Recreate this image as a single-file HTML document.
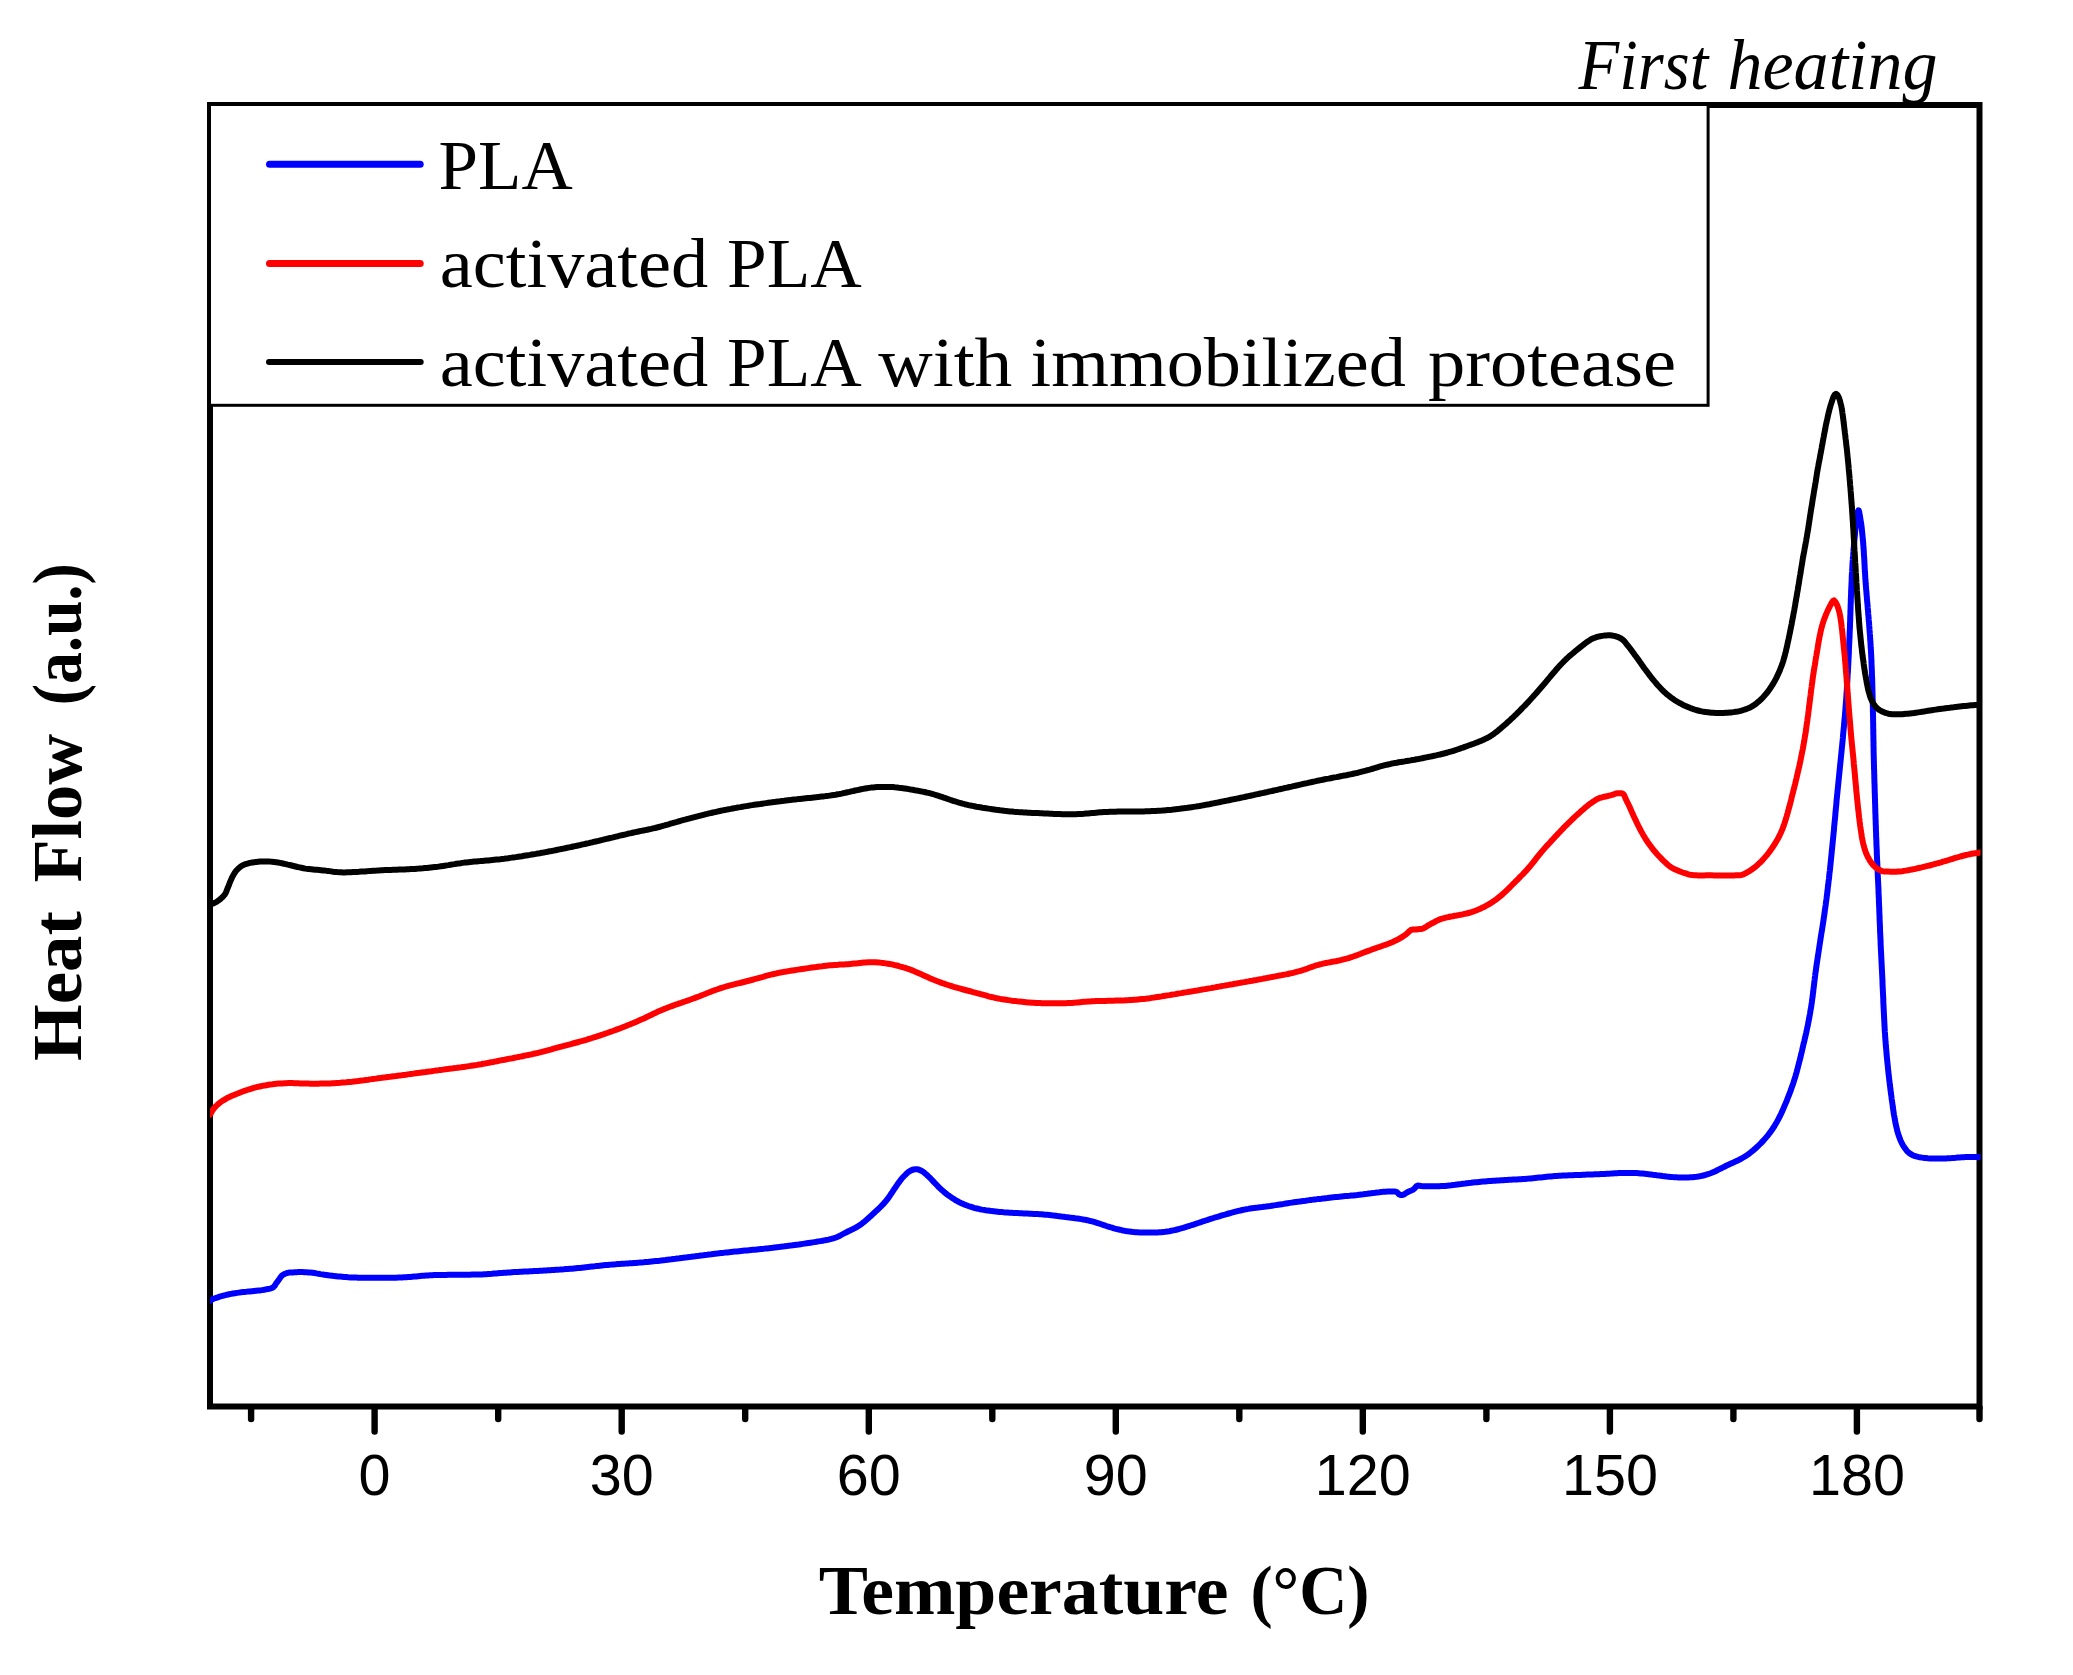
<!DOCTYPE html>
<html lang="en"><head><meta charset="utf-8"><title>DSC first heating</title>
<style>html,body{margin:0;padding:0;background:#fff}svg{display:block}.s{font-family:"Liberation Serif",serif}.ss{font-family:"Liberation Sans",sans-serif}</style></head><body>
<svg width="2073" height="1675" viewBox="0 0 2073 1675">
<rect width="2073" height="1675" fill="#fff"/>
<rect x="210.0" y="105.0" width="1769.5" height="1301.5" fill="none" stroke="#000" stroke-width="6"/>
<line x1="251.1" y1="1407.5" x2="251.1" y2="1419" stroke="#000" stroke-width="6.4" stroke-linecap="round"/>
<line x1="374.6" y1="1407.5" x2="374.6" y2="1431.5" stroke="#000" stroke-width="6.4" stroke-linecap="round"/>
<line x1="498.2" y1="1407.5" x2="498.2" y2="1419" stroke="#000" stroke-width="6.4" stroke-linecap="round"/>
<line x1="621.7" y1="1407.5" x2="621.7" y2="1431.5" stroke="#000" stroke-width="6.4" stroke-linecap="round"/>
<line x1="745.2" y1="1407.5" x2="745.2" y2="1419" stroke="#000" stroke-width="6.4" stroke-linecap="round"/>
<line x1="868.8" y1="1407.5" x2="868.8" y2="1431.5" stroke="#000" stroke-width="6.4" stroke-linecap="round"/>
<line x1="992.3" y1="1407.5" x2="992.3" y2="1419" stroke="#000" stroke-width="6.4" stroke-linecap="round"/>
<line x1="1115.8" y1="1407.5" x2="1115.8" y2="1431.5" stroke="#000" stroke-width="6.4" stroke-linecap="round"/>
<line x1="1239.3" y1="1407.5" x2="1239.3" y2="1419" stroke="#000" stroke-width="6.4" stroke-linecap="round"/>
<line x1="1362.8" y1="1407.5" x2="1362.8" y2="1431.5" stroke="#000" stroke-width="6.4" stroke-linecap="round"/>
<line x1="1486.4" y1="1407.5" x2="1486.4" y2="1419" stroke="#000" stroke-width="6.4" stroke-linecap="round"/>
<line x1="1609.9" y1="1407.5" x2="1609.9" y2="1431.5" stroke="#000" stroke-width="6.4" stroke-linecap="round"/>
<line x1="1733.4" y1="1407.5" x2="1733.4" y2="1419" stroke="#000" stroke-width="6.4" stroke-linecap="round"/>
<line x1="1856.9" y1="1407.5" x2="1856.9" y2="1431.5" stroke="#000" stroke-width="6.4" stroke-linecap="round"/>
<line x1="1979.5" y1="1407.5" x2="1979.5" y2="1419" stroke="#000" stroke-width="6.4" stroke-linecap="round"/>
<text class="ss" x="374.6" y="1494.5" font-size="57.5" text-anchor="middle">0</text>
<text class="ss" x="621.7" y="1494.5" font-size="57.5" text-anchor="middle">30</text>
<text class="ss" x="868.8" y="1494.5" font-size="57.5" text-anchor="middle">60</text>
<text class="ss" x="1115.8" y="1494.5" font-size="57.5" text-anchor="middle">90</text>
<text class="ss" x="1362.8" y="1494.5" font-size="57.5" text-anchor="middle">120</text>
<text class="ss" x="1609.9" y="1494.5" font-size="57.5" text-anchor="middle">150</text>
<text class="ss" x="1856.9" y="1494.5" font-size="57.5" text-anchor="middle">180</text>
<rect x="209.5" y="104.5" width="1498.6" height="300.8" fill="#fff" stroke="#000" stroke-width="3"/>
<clipPath id="c"><rect x="210" y="105" width="1770.5" height="1301"/></clipPath>
<g clip-path="url(#c)" fill="none" stroke-linejoin="round" stroke-linecap="round">
<path d="M210.2,1300.6 L212.5,1299.2 L214.3,1298.5 L216.1,1297.9 L217.9,1297.3 L219.6,1296.7 L221.4,1296.2 L223.3,1295.6 L225.2,1295.2 L227.1,1294.7 L229.0,1294.3 L231.0,1293.9 L233.0,1293.5 L235.0,1293.2 L237.1,1292.9 L239.1,1292.6 L241.2,1292.3 L243.3,1292.1 L245.4,1291.9 L247.6,1291.6 L249.7,1291.4 L251.9,1291.2 L254.0,1291.0 L256.2,1290.8 L258.2,1290.6 L260.3,1290.4 L262.3,1290.1 L264.2,1289.8 L266.1,1289.4 L267.9,1289.0 L269.6,1288.7 L271.1,1288.3 L272.5,1287.7 L273.7,1286.9 L274.9,1285.5 L276.0,1283.6 L277.2,1281.9 L278.3,1280.4 L279.5,1278.8 L280.6,1277.1 L281.8,1275.7 L283.3,1274.6 L285.1,1273.7 L287.0,1273.0 L288.9,1272.6 L290.7,1272.5 L292.6,1272.4 L294.6,1272.3 L296.6,1272.2 L298.5,1272.1 L300.5,1272.1 L302.5,1272.1 L304.5,1272.2 L306.5,1272.2 L308.5,1272.4 L310.5,1272.5 L312.5,1272.7 L314.5,1273.0 L316.4,1273.4 L318.4,1273.7 L320.4,1274.1 L322.3,1274.4 L324.3,1274.7 L326.3,1275.0 L328.2,1275.3 L330.2,1275.6 L332.2,1275.8 L334.2,1276.0 L336.2,1276.2 L338.2,1276.4 L340.2,1276.6 L342.2,1276.8 L344.2,1277.0 L346.2,1277.1 L348.2,1277.3 L350.2,1277.4 L352.2,1277.5 L354.2,1277.6 L356.2,1277.6 L358.1,1277.7 L360.1,1277.7 L362.1,1277.8 L364.1,1277.8 L366.1,1277.8 L368.1,1277.8 L370.1,1277.8 L372.1,1277.8 L374.2,1277.8 L376.2,1277.8 L378.2,1277.8 L380.2,1277.8 L382.2,1277.8 L384.2,1277.8 L386.2,1277.8 L388.2,1277.8 L390.2,1277.8 L392.2,1277.7 L394.2,1277.7 L396.2,1277.7 L398.2,1277.6 L400.1,1277.5 L402.1,1277.4 L404.1,1277.3 L406.1,1277.2 L408.1,1277.0 L410.1,1276.9 L412.1,1276.7 L414.1,1276.5 L416.1,1276.4 L418.1,1276.2 L420.1,1276.0 L422.1,1275.8 L424.1,1275.7 L426.1,1275.5 L428.1,1275.4 L430.1,1275.3 L432.1,1275.2 L434.1,1275.1 L436.1,1275.0 L438.1,1275.0 L440.1,1274.9 L442.1,1274.9 L444.1,1274.9 L446.1,1274.9 L448.1,1274.8 L450.1,1274.8 L452.1,1274.8 L454.1,1274.8 L456.1,1274.8 L458.1,1274.8 L460.1,1274.8 L462.1,1274.7 L464.1,1274.7 L466.1,1274.7 L468.1,1274.7 L470.1,1274.7 L472.1,1274.6 L474.1,1274.6 L476.1,1274.6 L478.1,1274.5 L480.1,1274.4 L482.1,1274.4 L484.1,1274.3 L486.1,1274.2 L488.1,1274.0 L490.0,1273.9 L492.0,1273.8 L494.0,1273.6 L496.0,1273.5 L498.0,1273.3 L500.0,1273.1 L502.0,1273.0 L504.0,1272.8 L506.0,1272.7 L508.0,1272.5 L510.0,1272.4 L512.0,1272.2 L514.0,1272.1 L516.0,1272.0 L518.0,1271.9 L520.0,1271.8 L522.0,1271.7 L524.0,1271.6 L526.0,1271.5 L528.0,1271.4 L530.0,1271.3 L532.0,1271.2 L534.0,1271.1 L536.0,1271.0 L538.0,1270.9 L540.0,1270.8 L542.0,1270.7 L544.0,1270.6 L546.0,1270.5 L548.0,1270.3 L550.0,1270.2 L552.0,1270.1 L554.0,1270.0 L555.9,1269.8 L557.9,1269.7 L559.9,1269.6 L561.9,1269.4 L563.9,1269.3 L565.9,1269.1 L567.9,1269.0 L569.9,1268.8 L571.9,1268.7 L573.9,1268.5 L575.9,1268.3 L577.9,1268.1 L579.9,1267.9 L581.9,1267.7 L583.9,1267.5 L585.8,1267.3 L587.8,1267.1 L589.8,1266.8 L591.8,1266.6 L593.8,1266.4 L595.8,1266.1 L597.8,1265.9 L599.8,1265.7 L601.7,1265.5 L603.7,1265.3 L605.7,1265.1 L607.7,1264.9 L609.7,1264.7 L611.7,1264.6 L613.7,1264.4 L615.7,1264.3 L617.7,1264.1 L619.7,1264.0 L621.7,1263.8 L623.7,1263.7 L625.7,1263.6 L627.7,1263.4 L629.7,1263.3 L631.7,1263.2 L633.7,1263.0 L635.7,1262.9 L637.6,1262.7 L639.6,1262.6 L641.6,1262.4 L643.6,1262.3 L645.6,1262.1 L647.6,1261.9 L649.6,1261.7 L651.6,1261.5 L653.6,1261.3 L655.6,1261.1 L657.6,1260.9 L659.6,1260.7 L661.5,1260.4 L663.5,1260.2 L665.5,1260.0 L667.5,1259.7 L669.5,1259.5 L671.5,1259.3 L673.5,1259.0 L675.4,1258.8 L677.4,1258.5 L679.4,1258.3 L681.4,1258.0 L683.4,1257.8 L685.4,1257.6 L687.4,1257.3 L689.3,1257.1 L691.3,1256.8 L693.3,1256.6 L695.3,1256.3 L697.3,1256.1 L699.3,1255.8 L701.3,1255.5 L703.2,1255.3 L705.2,1255.0 L707.2,1254.8 L709.2,1254.5 L711.2,1254.3 L713.2,1254.0 L715.1,1253.8 L717.1,1253.6 L719.1,1253.3 L721.1,1253.1 L723.1,1252.9 L725.1,1252.6 L727.1,1252.4 L729.1,1252.2 L731.0,1252.0 L733.0,1251.8 L735.0,1251.6 L737.0,1251.4 L739.0,1251.2 L741.0,1251.0 L743.0,1250.8 L745.0,1250.6 L747.0,1250.4 L749.0,1250.2 L751.0,1250.0 L753.0,1249.8 L754.9,1249.7 L756.9,1249.5 L758.9,1249.3 L760.9,1249.1 L762.9,1248.9 L764.9,1248.6 L766.9,1248.4 L768.9,1248.2 L770.9,1248.0 L772.8,1247.8 L774.8,1247.5 L776.8,1247.3 L778.8,1247.1 L780.8,1246.8 L782.8,1246.6 L784.8,1246.3 L786.8,1246.1 L788.7,1245.8 L790.7,1245.6 L792.7,1245.3 L794.7,1245.0 L796.7,1244.7 L798.7,1244.5 L800.6,1244.2 L802.6,1243.9 L804.6,1243.6 L806.6,1243.3 L808.6,1243.0 L810.6,1242.7 L812.5,1242.4 L814.5,1242.1 L816.5,1241.8 L818.5,1241.4 L820.6,1241.1 L822.6,1240.8 L824.5,1240.4 L826.5,1240.0 L828.5,1239.6 L830.4,1239.1 L832.3,1238.6 L834.1,1238.1 L836.0,1237.5 L837.7,1236.8 L839.5,1236.0 L841.2,1235.0 L843.0,1234.0 L844.7,1233.1 L846.5,1232.2 L848.3,1231.3 L850.0,1230.5 L851.8,1229.6 L853.6,1228.7 L855.3,1227.8 L857.0,1226.8 L858.7,1225.9 L860.4,1224.7 L862.0,1223.6 L863.5,1222.3 L865.1,1221.1 L866.6,1219.8 L868.1,1218.4 L869.6,1217.1 L871.1,1215.7 L872.5,1214.4 L874.0,1213.0 L875.5,1211.6 L877.0,1210.3 L878.5,1208.9 L879.9,1207.5 L881.3,1206.1 L882.7,1204.7 L884.0,1203.2 L885.3,1201.7 L886.6,1200.2 L887.8,1198.6 L889.0,1197.0 L890.1,1195.4 L891.2,1193.7 L892.3,1192.1 L893.4,1190.4 L894.5,1188.7 L895.7,1187.0 L896.8,1185.4 L897.9,1183.7 L899.1,1182.1 L900.3,1180.5 L901.5,1178.9 L902.8,1177.4 L904.2,1176.0 L905.6,1174.6 L907.0,1173.2 L908.6,1171.8 L910.3,1170.8 L912.0,1170.0 L913.7,1169.5 L915.5,1169.3 L917.3,1169.3 L919.1,1169.7 L920.8,1170.5 L922.5,1171.4 L924.1,1172.5 L925.7,1173.9 L927.2,1175.3 L928.6,1176.6 L930.1,1178.0 L931.5,1179.5 L932.8,1180.9 L934.2,1182.4 L935.6,1183.8 L937.0,1185.3 L938.3,1186.7 L939.8,1188.1 L941.2,1189.5 L942.7,1190.8 L944.2,1192.1 L945.8,1193.4 L947.3,1194.6 L949.0,1195.8 L950.6,1196.9 L952.2,1198.0 L953.9,1199.1 L955.6,1200.2 L957.4,1201.1 L959.1,1202.1 L960.9,1203.0 L962.7,1203.8 L964.5,1204.6 L966.4,1205.3 L968.3,1206.0 L970.2,1206.6 L972.1,1207.2 L974.0,1207.8 L975.9,1208.3 L977.9,1208.7 L979.8,1209.2 L981.8,1209.6 L983.7,1209.9 L985.7,1210.3 L987.7,1210.6 L989.7,1210.8 L991.6,1211.1 L993.6,1211.3 L995.6,1211.5 L997.6,1211.7 L999.6,1211.9 L1001.6,1212.1 L1003.6,1212.3 L1005.6,1212.4 L1007.6,1212.5 L1009.6,1212.7 L1011.6,1212.8 L1013.6,1212.9 L1015.6,1213.0 L1017.6,1213.1 L1019.6,1213.2 L1021.6,1213.3 L1023.6,1213.4 L1025.6,1213.5 L1027.6,1213.6 L1029.6,1213.7 L1031.6,1213.8 L1033.6,1213.9 L1035.6,1214.0 L1037.6,1214.1 L1039.6,1214.2 L1041.5,1214.3 L1043.5,1214.5 L1045.5,1214.7 L1047.5,1214.8 L1049.5,1215.0 L1051.5,1215.3 L1053.5,1215.5 L1055.5,1215.7 L1057.5,1216.0 L1059.4,1216.2 L1061.4,1216.5 L1063.4,1216.7 L1065.4,1217.0 L1067.4,1217.2 L1069.4,1217.5 L1071.4,1217.7 L1073.4,1218.0 L1075.3,1218.3 L1077.3,1218.5 L1079.3,1218.8 L1081.3,1219.1 L1083.3,1219.5 L1085.2,1219.8 L1087.2,1220.2 L1089.1,1220.7 L1091.0,1221.1 L1093.0,1221.6 L1094.9,1222.2 L1096.8,1222.8 L1098.7,1223.4 L1100.6,1224.0 L1102.5,1224.7 L1104.4,1225.3 L1106.3,1226.0 L1108.2,1226.6 L1110.1,1227.2 L1112.0,1227.7 L1113.9,1228.3 L1115.9,1228.8 L1117.8,1229.3 L1119.7,1229.7 L1121.7,1230.2 L1123.6,1230.6 L1125.6,1231.0 L1127.6,1231.3 L1129.6,1231.6 L1131.5,1231.8 L1133.5,1232.1 L1135.5,1232.2 L1137.5,1232.3 L1139.5,1232.4 L1141.5,1232.5 L1143.5,1232.5 L1145.5,1232.6 L1147.5,1232.6 L1149.5,1232.6 L1151.5,1232.6 L1153.5,1232.5 L1155.5,1232.5 L1157.5,1232.4 L1159.5,1232.3 L1161.5,1232.2 L1163.4,1232.0 L1165.4,1231.8 L1167.4,1231.5 L1169.4,1231.2 L1171.3,1230.8 L1173.3,1230.4 L1175.2,1230.0 L1177.2,1229.5 L1179.1,1229.0 L1181.1,1228.4 L1183.0,1227.9 L1184.9,1227.3 L1186.8,1226.7 L1188.7,1226.1 L1190.6,1225.5 L1192.5,1224.9 L1194.4,1224.3 L1196.3,1223.6 L1198.2,1223.0 L1200.1,1222.4 L1202.0,1221.7 L1203.9,1221.1 L1205.8,1220.5 L1207.7,1219.9 L1209.6,1219.2 L1211.5,1218.6 L1213.5,1218.0 L1215.4,1217.4 L1217.3,1216.9 L1219.2,1216.3 L1221.1,1215.7 L1223.0,1215.1 L1225.0,1214.6 L1226.9,1214.0 L1228.8,1213.5 L1230.7,1213.0 L1232.7,1212.4 L1234.6,1211.9 L1236.5,1211.4 L1238.5,1210.9 L1240.4,1210.5 L1242.4,1210.0 L1244.3,1209.6 L1246.3,1209.2 L1248.3,1208.9 L1250.2,1208.5 L1252.2,1208.2 L1254.2,1207.9 L1256.2,1207.7 L1258.1,1207.5 L1260.1,1207.2 L1262.1,1207.0 L1264.1,1206.7 L1266.1,1206.5 L1268.1,1206.2 L1270.0,1206.0 L1272.0,1205.7 L1274.0,1205.4 L1276.0,1205.1 L1278.0,1204.8 L1279.9,1204.5 L1281.9,1204.2 L1283.9,1203.9 L1285.9,1203.5 L1287.8,1203.2 L1289.8,1202.9 L1291.8,1202.6 L1293.8,1202.3 L1295.8,1202.0 L1297.7,1201.7 L1299.7,1201.5 L1301.7,1201.2 L1303.7,1200.9 L1305.7,1200.7 L1307.6,1200.4 L1309.6,1200.1 L1311.6,1199.9 L1313.6,1199.6 L1315.6,1199.4 L1317.6,1199.1 L1319.6,1198.9 L1321.5,1198.7 L1323.5,1198.4 L1325.5,1198.2 L1327.5,1198.0 L1329.5,1197.7 L1331.5,1197.5 L1333.5,1197.3 L1335.5,1197.1 L1337.5,1196.9 L1339.4,1196.7 L1341.4,1196.5 L1343.4,1196.3 L1345.4,1196.1 L1347.4,1195.9 L1349.4,1195.8 L1351.4,1195.6 L1353.4,1195.4 L1355.4,1195.2 L1357.4,1195.0 L1359.4,1194.7 L1361.4,1194.5 L1363.3,1194.3 L1365.3,1194.0 L1367.3,1193.8 L1369.3,1193.5 L1371.3,1193.2 L1373.3,1192.9 L1375.3,1192.7 L1377.3,1192.4 L1379.4,1192.2 L1381.4,1191.9 L1383.5,1191.8 L1385.5,1191.7 L1387.6,1191.6 L1389.6,1191.6 L1391.7,1191.6 L1393.6,1191.6 L1395.2,1191.6 L1396.5,1191.9 L1397.8,1193.0 L1399.1,1194.4 L1400.6,1195.1 L1402.4,1195.0 L1404.0,1194.4 L1405.7,1193.3 L1407.3,1192.3 L1408.9,1191.5 L1410.7,1190.7 L1412.5,1190.0 L1413.9,1189.1 L1415.1,1187.7 L1416.4,1186.2 L1417.6,1185.6 L1419.2,1185.7 L1421.2,1186.0 L1423.3,1186.2 L1425.3,1186.2 L1427.2,1186.2 L1429.2,1186.2 L1431.2,1186.3 L1433.2,1186.3 L1435.2,1186.3 L1437.2,1186.2 L1439.2,1186.2 L1441.2,1186.1 L1443.2,1186.0 L1445.2,1185.9 L1447.2,1185.7 L1449.2,1185.5 L1451.2,1185.3 L1453.2,1185.0 L1455.2,1184.8 L1457.1,1184.5 L1459.1,1184.2 L1461.1,1184.0 L1463.1,1183.7 L1465.1,1183.5 L1467.1,1183.2 L1469.1,1183.0 L1471.1,1182.8 L1473.1,1182.5 L1475.0,1182.3 L1477.0,1182.2 L1479.0,1182.0 L1481.0,1181.8 L1483.0,1181.6 L1485.0,1181.5 L1487.0,1181.3 L1489.0,1181.1 L1491.0,1181.0 L1493.0,1180.8 L1495.0,1180.7 L1497.0,1180.5 L1499.0,1180.4 L1501.0,1180.3 L1503.0,1180.2 L1505.0,1180.0 L1507.0,1179.9 L1509.0,1179.8 L1511.0,1179.7 L1513.0,1179.6 L1515.0,1179.5 L1517.0,1179.4 L1518.9,1179.3 L1520.9,1179.2 L1522.9,1179.0 L1524.9,1178.9 L1526.9,1178.7 L1528.9,1178.6 L1530.9,1178.4 L1532.9,1178.2 L1534.9,1178.0 L1536.9,1177.8 L1538.9,1177.6 L1540.9,1177.4 L1542.9,1177.2 L1544.8,1177.0 L1546.8,1176.8 L1548.8,1176.6 L1550.8,1176.4 L1552.8,1176.2 L1554.8,1176.1 L1556.8,1176.0 L1558.8,1175.8 L1560.8,1175.7 L1562.8,1175.6 L1564.8,1175.5 L1566.8,1175.4 L1568.8,1175.3 L1570.8,1175.2 L1572.8,1175.2 L1574.8,1175.1 L1576.8,1175.0 L1578.8,1174.9 L1580.8,1174.9 L1582.8,1174.8 L1584.8,1174.7 L1586.8,1174.6 L1588.8,1174.6 L1590.8,1174.5 L1592.8,1174.4 L1594.8,1174.3 L1596.8,1174.3 L1598.8,1174.2 L1600.8,1174.1 L1602.8,1174.0 L1604.8,1173.9 L1606.8,1173.8 L1608.8,1173.7 L1610.8,1173.6 L1612.8,1173.4 L1614.8,1173.3 L1616.8,1173.2 L1618.8,1173.1 L1620.8,1173.1 L1622.8,1173.0 L1624.8,1172.9 L1626.8,1172.9 L1628.8,1172.9 L1630.7,1172.9 L1632.7,1172.9 L1634.7,1173.0 L1636.7,1173.1 L1638.7,1173.2 L1640.7,1173.4 L1642.7,1173.6 L1644.7,1173.8 L1646.7,1174.0 L1648.7,1174.2 L1650.7,1174.4 L1652.7,1174.7 L1654.7,1174.9 L1656.6,1175.2 L1658.6,1175.4 L1660.6,1175.7 L1662.6,1176.0 L1664.6,1176.2 L1666.6,1176.5 L1668.6,1176.7 L1670.5,1176.9 L1672.5,1177.1 L1674.5,1177.2 L1676.5,1177.3 L1678.5,1177.4 L1680.5,1177.5 L1682.5,1177.5 L1684.5,1177.5 L1686.5,1177.5 L1688.5,1177.4 L1690.5,1177.3 L1692.5,1177.2 L1694.5,1177.0 L1696.5,1176.8 L1698.4,1176.5 L1700.4,1176.1 L1702.3,1175.7 L1704.3,1175.3 L1706.2,1174.7 L1708.0,1174.1 L1709.9,1173.5 L1711.8,1172.8 L1713.6,1172.0 L1715.4,1171.2 L1717.2,1170.3 L1719.0,1169.4 L1720.8,1168.5 L1722.6,1167.6 L1724.4,1166.7 L1726.2,1165.8 L1728.0,1164.9 L1729.8,1164.1 L1731.6,1163.2 L1733.5,1162.4 L1735.3,1161.6 L1737.1,1160.7 L1738.9,1159.9 L1740.6,1159.0 L1742.4,1158.0 L1744.1,1157.0 L1745.8,1156.0 L1747.4,1154.9 L1749.1,1153.7 L1750.6,1152.5 L1752.2,1151.2 L1753.7,1149.9 L1755.3,1148.6 L1756.7,1147.3 L1758.2,1145.9 L1759.6,1144.5 L1761.0,1143.1 L1762.4,1141.6 L1763.8,1140.1 L1765.1,1138.6 L1766.4,1137.1 L1767.7,1135.6 L1768.9,1134.0 L1770.1,1132.4 L1771.3,1130.8 L1772.4,1129.2 L1773.5,1127.5 L1774.6,1125.8 L1775.6,1124.1 L1776.6,1122.4 L1777.6,1120.6 L1778.5,1118.9 L1779.4,1117.1 L1780.3,1115.3 L1781.2,1113.5 L1782.0,1111.7 L1782.8,1109.8 L1783.7,1108.0 L1784.4,1106.2 L1785.2,1104.3 L1786.0,1102.5 L1786.8,1100.6 L1787.5,1098.7 L1788.2,1096.9 L1789.0,1095.0 L1789.7,1093.1 L1790.4,1091.3 L1791.1,1089.4 L1791.7,1087.5 L1792.4,1085.6 L1793.1,1083.7 L1793.7,1081.8 L1794.3,1079.9 L1794.9,1078.0 L1795.5,1076.1 L1796.0,1074.2 L1796.6,1072.3 L1797.1,1070.3 L1797.6,1068.4 L1798.1,1066.5 L1798.6,1064.5 L1799.1,1062.6 L1799.6,1060.7 L1800.1,1058.7 L1800.6,1056.8 L1801.0,1054.8 L1801.5,1052.9 L1802.0,1050.9 L1802.4,1049.0 L1802.9,1047.0 L1803.3,1045.1 L1803.8,1043.1 L1804.3,1041.2 L1804.7,1039.2 L1805.2,1037.3 L1805.6,1035.3 L1806.1,1033.4 L1806.5,1031.4 L1806.9,1029.5 L1807.3,1027.5 L1807.8,1025.6 L1808.1,1023.6 L1808.5,1021.6 L1808.9,1019.7 L1809.3,1017.7 L1809.6,1015.7 L1810.0,1013.8 L1810.3,1011.8 L1810.6,1009.8 L1811.0,1007.9 L1811.3,1005.9 L1811.6,1003.9 L1811.9,1001.9 L1812.1,999.9 L1812.4,998.0 L1812.7,996.0 L1812.9,994.0 L1813.2,992.0 L1813.4,990.0 L1813.6,988.0 L1813.9,986.0 L1814.1,984.1 L1814.3,982.1 L1814.6,980.1 L1814.8,978.1 L1815.1,976.1 L1815.3,974.1 L1815.6,972.1 L1815.9,970.2 L1816.1,968.2 L1816.4,966.2 L1816.7,964.2 L1817.0,962.2 L1817.3,960.3 L1817.6,958.3 L1817.9,956.3 L1818.2,954.3 L1818.5,952.4 L1818.8,950.4 L1819.1,948.4 L1819.4,946.4 L1819.7,944.4 L1820.0,942.5 L1820.3,940.5 L1820.6,938.5 L1820.9,936.5 L1821.2,934.6 L1821.5,932.6 L1821.9,930.6 L1822.2,928.6 L1822.5,926.6 L1822.8,924.7 L1823.1,922.7 L1823.4,920.7 L1823.7,918.7 L1824.0,916.8 L1824.3,914.8 L1824.6,912.8 L1824.8,910.8 L1825.1,908.8 L1825.4,906.9 L1825.7,904.9 L1825.9,902.9 L1826.2,900.9 L1826.5,898.9 L1826.7,896.9 L1827.0,895.0 L1827.2,893.0 L1827.5,891.0 L1827.7,889.0 L1827.9,887.0 L1828.2,885.0 L1828.4,883.0 L1828.6,881.1 L1828.9,879.1 L1829.1,877.1 L1829.3,875.1 L1829.5,873.1 L1829.8,871.1 L1830.0,869.1 L1830.2,867.1 L1830.4,865.1 L1830.6,863.2 L1830.8,861.2 L1831.0,859.2 L1831.2,857.2 L1831.4,855.2 L1831.6,853.2 L1831.8,851.2 L1832.0,849.2 L1832.2,847.2 L1832.4,845.2 L1832.6,843.3 L1832.8,841.3 L1833.0,839.3 L1833.2,837.3 L1833.4,835.3 L1833.6,833.3 L1833.8,831.3 L1834.0,829.3 L1834.1,827.3 L1834.3,825.3 L1834.5,823.3 L1834.7,821.3 L1834.9,819.4 L1835.1,817.4 L1835.3,815.4 L1835.4,813.4 L1835.6,811.4 L1835.8,809.4 L1836.0,807.4 L1836.2,805.4 L1836.4,803.4 L1836.5,801.4 L1836.7,799.4 L1836.9,797.4 L1837.1,795.4 L1837.3,793.5 L1837.5,791.5 L1837.7,789.5 L1837.9,787.5 L1838.1,785.5 L1838.3,783.5 L1838.5,781.5 L1838.7,779.5 L1838.9,777.5 L1839.1,775.5 L1839.3,773.6 L1839.5,771.6 L1839.7,769.6 L1839.9,767.6 L1840.1,765.6 L1840.3,763.6 L1840.5,761.6 L1840.7,759.6 L1840.9,757.6 L1841.1,755.6 L1841.3,753.7 L1841.5,751.7 L1841.7,749.7 L1841.9,747.7 L1842.1,745.7 L1842.3,743.7 L1842.5,741.7 L1842.7,739.7 L1842.9,737.7 L1843.0,735.7 L1843.2,733.7 L1843.4,731.7 L1843.6,729.8 L1843.8,727.8 L1844.0,725.8 L1844.1,723.8 L1844.3,721.8 L1844.5,719.8 L1844.7,717.8 L1844.9,715.8 L1845.0,713.8 L1845.2,711.8 L1845.4,709.8 L1845.5,707.8 L1845.7,705.8 L1845.8,703.8 L1846.0,701.8 L1846.1,699.9 L1846.3,697.9 L1846.4,695.9 L1846.5,693.9 L1846.7,691.9 L1846.8,689.9 L1846.9,687.9 L1847.1,685.9 L1847.2,683.9 L1847.3,681.9 L1847.4,679.9 L1847.5,677.9 L1847.6,675.9 L1847.7,673.9 L1847.9,671.9 L1848.0,669.9 L1848.1,667.9 L1848.2,665.9 L1848.3,663.9 L1848.4,661.9 L1848.5,659.9 L1848.6,657.9 L1848.7,655.9 L1848.8,653.9 L1848.9,651.9 L1848.9,649.9 L1849.0,647.9 L1849.1,645.9 L1849.2,643.9 L1849.3,641.9 L1849.4,639.9 L1849.5,637.9 L1849.6,635.9 L1849.6,633.9 L1849.7,631.9 L1849.8,629.9 L1849.9,627.9 L1850.0,625.9 L1850.0,623.9 L1850.1,621.9 L1850.2,619.9 L1850.2,617.9 L1850.3,615.9 L1850.4,613.9 L1850.4,611.9 L1850.5,609.9 L1850.6,607.9 L1850.6,605.9 L1850.7,603.9 L1850.8,601.9 L1850.8,599.9 L1850.9,597.9 L1851.0,595.9 L1851.1,593.9 L1851.1,591.9 L1851.2,589.9 L1851.3,587.9 L1851.4,585.9 L1851.5,583.9 L1851.6,581.9 L1851.7,579.9 L1851.7,578.0 L1851.8,576.0 L1851.9,574.0 L1852.1,572.0 L1852.2,570.0 L1852.3,568.0 L1852.4,566.0 L1852.5,564.0 L1852.6,562.0 L1852.8,560.0 L1852.9,558.0 L1853.1,556.0 L1853.2,554.0 L1853.4,552.0 L1853.5,550.0 L1853.7,548.0 L1853.9,546.0 L1854.1,544.0 L1854.2,542.0 L1854.4,540.0 L1854.6,538.0 L1854.8,536.0 L1855.0,534.0 L1855.1,532.1 L1855.3,530.1 L1855.5,528.1 L1855.8,526.1 L1856.0,524.1 L1856.2,522.1 L1856.5,520.3 L1856.8,518.4 L1857.2,516.3 L1857.6,513.9 L1857.9,511.7 L1858.4,510.4 L1858.8,510.5 L1859.2,511.9 L1859.6,514.2 L1860.0,516.4 L1860.3,518.4 L1860.6,520.2 L1860.9,522.1 L1861.2,524.0 L1861.5,526.0 L1861.7,527.9 L1861.9,529.9 L1862.1,531.9 L1862.3,533.9 L1862.5,535.9 L1862.7,537.9 L1862.9,539.9 L1863.1,541.9 L1863.2,543.9 L1863.4,545.9 L1863.5,547.9 L1863.7,549.9 L1863.8,551.9 L1863.9,553.9 L1864.0,555.8 L1864.2,557.8 L1864.3,559.8 L1864.4,561.8 L1864.5,563.8 L1864.6,565.8 L1864.7,567.8 L1864.8,569.8 L1864.9,571.8 L1865.1,573.8 L1865.2,575.8 L1865.3,577.8 L1865.4,579.8 L1865.6,581.8 L1865.7,583.8 L1865.9,585.8 L1866.0,587.8 L1866.2,589.8 L1866.4,591.8 L1866.5,593.8 L1866.7,595.8 L1866.9,597.8 L1867.0,599.8 L1867.2,601.7 L1867.4,603.7 L1867.6,605.7 L1867.7,607.7 L1867.9,609.7 L1868.1,611.7 L1868.2,613.7 L1868.4,615.7 L1868.6,617.7 L1868.7,619.7 L1868.9,621.7 L1869.1,623.7 L1869.2,625.7 L1869.4,627.7 L1869.5,629.7 L1869.7,631.7 L1869.8,633.7 L1870.0,635.6 L1870.1,637.6 L1870.2,639.6 L1870.4,641.6 L1870.5,643.6 L1870.6,645.6 L1870.7,647.6 L1870.9,649.6 L1871.0,651.6 L1871.1,653.6 L1871.2,655.6 L1871.3,657.6 L1871.4,659.6 L1871.5,661.6 L1871.5,663.6 L1871.6,665.6 L1871.7,667.6 L1871.8,669.6 L1871.9,671.6 L1871.9,673.6 L1872.0,675.6 L1872.1,677.6 L1872.2,679.6 L1872.2,681.6 L1872.3,683.6 L1872.3,685.6 L1872.4,687.6 L1872.4,689.6 L1872.5,691.6 L1872.5,693.6 L1872.6,695.6 L1872.6,697.6 L1872.7,699.6 L1872.7,701.6 L1872.8,703.6 L1872.8,705.6 L1872.9,707.6 L1872.9,709.6 L1872.9,711.6 L1873.0,713.6 L1873.0,715.6 L1873.1,717.6 L1873.1,719.6 L1873.1,721.6 L1873.2,723.6 L1873.2,725.6 L1873.2,727.6 L1873.3,729.6 L1873.3,731.6 L1873.3,733.6 L1873.4,735.6 L1873.4,737.6 L1873.4,739.6 L1873.5,741.6 L1873.5,743.6 L1873.5,745.6 L1873.6,747.6 L1873.6,749.6 L1873.6,751.6 L1873.7,753.6 L1873.7,755.6 L1873.8,757.6 L1873.8,759.6 L1873.9,761.6 L1873.9,763.6 L1874.0,765.6 L1874.0,767.6 L1874.1,769.6 L1874.2,771.6 L1874.2,773.6 L1874.3,775.6 L1874.3,777.6 L1874.4,779.6 L1874.4,781.6 L1874.5,783.6 L1874.6,785.6 L1874.6,787.6 L1874.7,789.6 L1874.7,791.6 L1874.8,793.6 L1874.9,795.6 L1874.9,797.6 L1875.0,799.6 L1875.0,801.6 L1875.1,803.6 L1875.2,805.6 L1875.2,807.6 L1875.3,809.6 L1875.3,811.6 L1875.4,813.6 L1875.5,815.6 L1875.5,817.6 L1875.6,819.6 L1875.7,821.6 L1875.7,823.6 L1875.8,825.6 L1875.9,827.6 L1875.9,829.6 L1876.0,831.6 L1876.1,833.6 L1876.1,835.6 L1876.2,837.6 L1876.3,839.6 L1876.4,841.6 L1876.4,843.6 L1876.5,845.6 L1876.6,847.6 L1876.7,849.6 L1876.8,851.6 L1876.8,853.6 L1876.9,855.6 L1877.0,857.6 L1877.1,859.6 L1877.2,861.6 L1877.3,863.6 L1877.4,865.6 L1877.5,867.6 L1877.6,869.6 L1877.7,871.6 L1877.7,873.6 L1877.8,875.6 L1877.9,877.6 L1878.0,879.6 L1878.1,881.6 L1878.2,883.6 L1878.3,885.6 L1878.4,887.6 L1878.5,889.6 L1878.5,891.6 L1878.6,893.6 L1878.7,895.6 L1878.8,897.6 L1878.9,899.6 L1878.9,901.6 L1879.0,903.6 L1879.1,905.5 L1879.2,907.5 L1879.3,909.5 L1879.3,911.5 L1879.4,913.5 L1879.5,915.5 L1879.6,917.5 L1879.6,919.5 L1879.7,921.5 L1879.8,923.5 L1879.9,925.5 L1880.0,927.5 L1880.0,929.5 L1880.1,931.5 L1880.2,933.5 L1880.3,935.5 L1880.4,937.5 L1880.5,939.5 L1880.6,941.5 L1880.6,943.5 L1880.7,945.5 L1880.8,947.5 L1880.9,949.5 L1881.0,951.5 L1881.1,953.5 L1881.2,955.5 L1881.3,957.5 L1881.4,959.5 L1881.5,961.5 L1881.6,963.5 L1881.7,965.5 L1881.8,967.5 L1881.9,969.5 L1882.0,971.5 L1882.1,973.5 L1882.2,975.5 L1882.3,977.5 L1882.4,979.5 L1882.5,981.5 L1882.5,983.5 L1882.6,985.5 L1882.7,987.5 L1882.8,989.5 L1882.9,991.5 L1883.0,993.5 L1883.1,995.5 L1883.2,997.5 L1883.3,999.5 L1883.3,1001.5 L1883.4,1003.5 L1883.5,1005.5 L1883.6,1007.5 L1883.7,1009.5 L1883.8,1011.5 L1883.9,1013.5 L1884.0,1015.5 L1884.1,1017.5 L1884.2,1019.5 L1884.3,1021.5 L1884.4,1023.5 L1884.5,1025.5 L1884.6,1027.5 L1884.7,1029.5 L1884.8,1031.5 L1885.0,1033.4 L1885.1,1035.4 L1885.2,1037.4 L1885.4,1039.4 L1885.5,1041.4 L1885.7,1043.4 L1885.8,1045.4 L1886.0,1047.4 L1886.2,1049.4 L1886.4,1051.4 L1886.5,1053.4 L1886.7,1055.4 L1886.9,1057.4 L1887.1,1059.4 L1887.3,1061.4 L1887.5,1063.4 L1887.7,1065.3 L1887.9,1067.3 L1888.1,1069.3 L1888.3,1071.3 L1888.5,1073.3 L1888.7,1075.3 L1889.0,1077.3 L1889.2,1079.3 L1889.4,1081.3 L1889.7,1083.2 L1889.9,1085.2 L1890.2,1087.2 L1890.4,1089.2 L1890.7,1091.2 L1890.9,1093.2 L1891.2,1095.1 L1891.5,1097.1 L1891.7,1099.1 L1892.0,1101.1 L1892.3,1103.1 L1892.6,1105.1 L1892.8,1107.0 L1893.1,1109.0 L1893.4,1111.0 L1893.7,1113.0 L1894.0,1115.0 L1894.4,1116.9 L1894.7,1118.9 L1895.1,1120.9 L1895.4,1122.8 L1895.9,1124.8 L1896.3,1126.8 L1896.8,1128.7 L1897.2,1130.6 L1897.8,1132.6 L1898.4,1134.5 L1899.0,1136.4 L1899.7,1138.2 L1900.4,1140.1 L1901.2,1141.9 L1902.1,1143.6 L1903.0,1145.4 L1904.1,1147.0 L1905.2,1148.7 L1906.4,1150.2 L1907.7,1151.7 L1909.2,1153.0 L1910.9,1154.2 L1912.6,1155.2 L1914.4,1155.9 L1916.2,1156.4 L1918.0,1156.9 L1919.9,1157.3 L1921.9,1157.6 L1923.8,1157.9 L1925.8,1158.1 L1927.8,1158.3 L1929.8,1158.4 L1931.8,1158.5 L1933.8,1158.5 L1935.8,1158.6 L1937.8,1158.6 L1939.8,1158.6 L1941.8,1158.5 L1943.8,1158.5 L1945.8,1158.4 L1947.8,1158.3 L1949.8,1158.2 L1951.8,1158.1 L1953.8,1157.9 L1955.8,1157.8 L1957.7,1157.6 L1959.7,1157.4 L1961.7,1157.3 L1963.7,1157.2 L1965.6,1157.1 L1967.6,1157.1 L1969.5,1157.0 L1971.3,1157.0 L1973.2,1157.0 L1975.2,1157.0 L1977.2,1157.0 L1979.0,1157.0 L1980.7,1157.0" stroke="#0000ff" stroke-width="6"/>
<path d="M210.2,1114.7 L211.5,1112.2 L212.4,1110.5 L213.4,1109.0 L214.5,1107.7 L215.7,1106.4 L217.1,1105.1 L218.5,1103.8 L220.1,1102.5 L221.7,1101.4 L223.3,1100.3 L225.0,1099.3 L226.7,1098.3 L228.5,1097.4 L230.3,1096.6 L232.1,1095.8 L234.0,1095.0 L235.8,1094.2 L237.7,1093.5 L239.6,1092.7 L241.4,1092.0 L243.3,1091.3 L245.2,1090.6 L247.1,1090.0 L249.0,1089.4 L250.9,1088.8 L252.8,1088.2 L254.8,1087.7 L256.7,1087.2 L258.6,1086.7 L260.6,1086.3 L262.5,1085.9 L264.5,1085.5 L266.5,1085.2 L268.4,1084.8 L270.4,1084.5 L272.4,1084.3 L274.4,1084.0 L276.4,1083.8 L278.4,1083.6 L280.4,1083.5 L282.4,1083.4 L284.4,1083.2 L286.3,1083.2 L288.3,1083.1 L290.3,1083.1 L292.3,1083.1 L294.3,1083.2 L296.3,1083.2 L298.3,1083.3 L300.3,1083.4 L302.3,1083.5 L304.3,1083.5 L306.3,1083.6 L308.3,1083.6 L310.3,1083.7 L312.3,1083.7 L314.3,1083.7 L316.3,1083.7 L318.3,1083.7 L320.3,1083.6 L322.3,1083.6 L324.3,1083.6 L326.3,1083.5 L328.3,1083.4 L330.3,1083.4 L332.3,1083.3 L334.3,1083.2 L336.3,1083.0 L338.3,1082.9 L340.3,1082.8 L342.3,1082.6 L344.3,1082.4 L346.3,1082.3 L348.3,1082.1 L350.3,1081.9 L352.2,1081.7 L354.2,1081.4 L356.2,1081.2 L358.2,1081.0 L360.2,1080.7 L362.2,1080.4 L364.2,1080.2 L366.1,1079.9 L368.1,1079.7 L370.1,1079.4 L372.1,1079.1 L374.1,1078.9 L376.1,1078.6 L378.0,1078.3 L380.0,1078.1 L382.0,1077.8 L384.0,1077.6 L386.0,1077.3 L388.0,1077.0 L389.9,1076.8 L391.9,1076.5 L393.9,1076.2 L395.9,1076.0 L397.9,1075.7 L399.9,1075.4 L401.8,1075.2 L403.8,1074.9 L405.8,1074.7 L407.8,1074.4 L409.8,1074.1 L411.8,1073.9 L413.7,1073.6 L415.7,1073.3 L417.7,1073.0 L419.7,1072.8 L421.7,1072.5 L423.7,1072.2 L425.6,1072.0 L427.6,1071.7 L429.6,1071.4 L431.6,1071.2 L433.6,1070.9 L435.6,1070.6 L437.5,1070.4 L439.5,1070.1 L441.5,1069.9 L443.5,1069.6 L445.5,1069.3 L447.5,1069.1 L449.4,1068.8 L451.4,1068.6 L453.4,1068.3 L455.4,1068.1 L457.4,1067.8 L459.4,1067.6 L461.4,1067.3 L463.3,1067.0 L465.3,1066.7 L467.3,1066.4 L469.3,1066.1 L471.2,1065.8 L473.2,1065.5 L475.2,1065.2 L477.2,1064.9 L479.1,1064.5 L481.1,1064.2 L483.1,1063.8 L485.0,1063.5 L487.0,1063.1 L489.0,1062.7 L490.9,1062.3 L492.9,1062.0 L494.9,1061.6 L496.8,1061.2 L498.8,1060.8 L500.8,1060.4 L502.7,1060.0 L504.7,1059.7 L506.7,1059.3 L508.6,1058.9 L510.6,1058.5 L512.6,1058.2 L514.5,1057.8 L516.5,1057.4 L518.4,1057.0 L520.4,1056.6 L522.4,1056.2 L524.3,1055.8 L526.3,1055.4 L528.3,1055.0 L530.2,1054.6 L532.2,1054.2 L534.1,1053.7 L536.1,1053.3 L538.0,1052.8 L539.9,1052.3 L541.9,1051.8 L543.8,1051.3 L545.7,1050.8 L547.7,1050.3 L549.6,1049.8 L551.5,1049.3 L553.5,1048.7 L555.4,1048.2 L557.3,1047.7 L559.3,1047.1 L561.2,1046.6 L563.1,1046.1 L565.1,1045.6 L567.0,1045.1 L568.9,1044.6 L570.9,1044.1 L572.8,1043.5 L574.7,1043.0 L576.7,1042.5 L578.6,1042.0 L580.5,1041.4 L582.4,1040.9 L584.4,1040.3 L586.3,1039.8 L588.2,1039.2 L590.1,1038.6 L592.0,1038.0 L593.9,1037.4 L595.8,1036.8 L597.7,1036.2 L599.6,1035.6 L601.5,1034.9 L603.4,1034.3 L605.3,1033.6 L607.2,1033.0 L609.1,1032.3 L611.0,1031.6 L612.9,1031.0 L614.8,1030.3 L616.6,1029.6 L618.5,1028.9 L620.4,1028.2 L622.2,1027.5 L624.1,1026.7 L626.0,1026.0 L627.8,1025.2 L629.7,1024.5 L631.5,1023.7 L633.4,1023.0 L635.2,1022.2 L637.1,1021.4 L638.9,1020.6 L640.7,1019.8 L642.6,1019.0 L644.4,1018.2 L646.2,1017.3 L648.0,1016.4 L649.8,1015.6 L651.6,1014.7 L653.4,1013.8 L655.2,1013.0 L657.0,1012.1 L658.8,1011.3 L660.6,1010.5 L662.5,1009.7 L664.3,1008.9 L666.2,1008.2 L668.0,1007.5 L669.9,1006.8 L671.8,1006.1 L673.7,1005.4 L675.5,1004.7 L677.4,1004.1 L679.3,1003.4 L681.2,1002.8 L683.1,1002.1 L685.0,1001.5 L686.9,1000.8 L688.8,1000.2 L690.7,999.5 L692.6,998.8 L694.5,998.1 L696.3,997.4 L698.2,996.7 L700.1,996.0 L701.9,995.2 L703.8,994.5 L705.7,993.8 L707.5,993.0 L709.4,992.3 L711.2,991.6 L713.1,990.8 L715.0,990.1 L716.9,989.5 L718.8,988.8 L720.6,988.2 L722.5,987.6 L724.5,987.0 L726.4,986.4 L728.3,985.9 L730.2,985.4 L732.2,984.9 L734.1,984.4 L736.0,983.9 L738.0,983.4 L739.9,983.0 L741.9,982.5 L743.8,982.0 L745.8,981.5 L747.7,981.0 L749.6,980.5 L751.6,980.0 L753.5,979.5 L755.4,978.9 L757.4,978.4 L759.3,977.8 L761.2,977.3 L763.1,976.8 L765.1,976.2 L767.0,975.7 L768.9,975.2 L770.9,974.7 L772.8,974.2 L774.8,973.8 L776.7,973.3 L778.7,972.9 L780.6,972.5 L782.6,972.1 L784.5,971.8 L786.5,971.5 L788.5,971.1 L790.5,970.8 L792.4,970.5 L794.4,970.2 L796.4,969.9 L798.4,969.6 L800.4,969.3 L802.3,969.0 L804.3,968.7 L806.3,968.4 L808.3,968.1 L810.3,967.8 L812.2,967.5 L814.2,967.2 L816.2,967.0 L818.2,966.7 L820.2,966.4 L822.2,966.2 L824.1,965.9 L826.1,965.7 L828.1,965.5 L830.1,965.3 L832.1,965.2 L834.1,965.0 L836.1,964.9 L838.1,964.8 L840.1,964.6 L842.1,964.5 L844.1,964.4 L846.1,964.3 L848.1,964.2 L850.1,964.0 L852.1,963.8 L854.0,963.6 L856.0,963.4 L858.0,963.2 L860.0,963.0 L862.0,962.8 L864.0,962.6 L866.0,962.4 L868.0,962.3 L870.0,962.2 L871.9,962.2 L873.9,962.3 L875.9,962.3 L877.9,962.5 L879.9,962.6 L881.9,962.9 L883.9,963.1 L885.8,963.4 L887.8,963.7 L889.8,964.0 L891.8,964.4 L893.7,964.8 L895.7,965.3 L897.6,965.7 L899.6,966.3 L901.5,966.8 L903.4,967.4 L905.3,967.9 L907.2,968.6 L909.1,969.2 L911.0,969.9 L912.8,970.6 L914.7,971.4 L916.5,972.2 L918.3,973.0 L920.1,973.8 L922.0,974.6 L923.8,975.5 L925.6,976.3 L927.4,977.1 L929.3,977.9 L931.1,978.7 L933.0,979.5 L934.8,980.2 L936.7,981.0 L938.6,981.7 L940.4,982.4 L942.3,983.1 L944.2,983.7 L946.1,984.4 L948.0,985.0 L949.9,985.6 L951.8,986.2 L953.7,986.8 L955.6,987.3 L957.6,987.9 L959.5,988.4 L961.4,989.0 L963.3,989.5 L965.3,990.0 L967.2,990.5 L969.1,991.0 L971.1,991.5 L973.0,992.1 L975.0,992.6 L976.9,993.1 L978.8,993.6 L980.8,994.2 L982.7,994.7 L984.6,995.2 L986.5,995.7 L988.5,996.3 L990.4,996.8 L992.4,997.2 L994.3,997.7 L996.3,998.1 L998.2,998.5 L1000.2,998.9 L1002.1,999.2 L1004.1,999.5 L1006.1,999.8 L1008.1,1000.1 L1010.0,1000.4 L1012.0,1000.7 L1014.0,1000.9 L1016.0,1001.1 L1018.0,1001.4 L1020.0,1001.6 L1022.0,1001.8 L1024.0,1002.0 L1026.0,1002.2 L1028.0,1002.4 L1029.9,1002.5 L1031.9,1002.7 L1033.9,1002.8 L1035.9,1003.0 L1037.9,1003.0 L1039.9,1003.1 L1041.9,1003.2 L1043.9,1003.2 L1045.9,1003.3 L1047.9,1003.3 L1049.9,1003.3 L1051.9,1003.3 L1053.9,1003.3 L1055.9,1003.3 L1057.9,1003.3 L1059.9,1003.3 L1061.9,1003.3 L1063.9,1003.2 L1065.9,1003.2 L1067.9,1003.1 L1069.9,1003.0 L1071.9,1002.9 L1073.9,1002.7 L1075.9,1002.6 L1077.9,1002.4 L1079.9,1002.2 L1081.9,1002.0 L1083.9,1001.8 L1085.8,1001.7 L1087.8,1001.5 L1089.8,1001.4 L1091.8,1001.3 L1093.8,1001.2 L1095.8,1001.1 L1097.8,1001.1 L1099.8,1001.0 L1101.8,1001.0 L1103.8,1000.9 L1105.8,1000.9 L1107.8,1000.8 L1109.8,1000.8 L1111.8,1000.7 L1113.8,1000.7 L1115.8,1000.6 L1117.8,1000.6 L1119.8,1000.5 L1121.8,1000.5 L1123.8,1000.4 L1125.8,1000.3 L1127.8,1000.2 L1129.8,1000.1 L1131.8,1000.0 L1133.8,999.8 L1135.8,999.7 L1137.8,999.5 L1139.8,999.3 L1141.8,999.1 L1143.7,998.9 L1145.7,998.7 L1147.7,998.4 L1149.7,998.2 L1151.7,997.9 L1153.7,997.6 L1155.6,997.3 L1157.6,997.0 L1159.6,996.7 L1161.6,996.4 L1163.6,996.0 L1165.5,995.7 L1167.5,995.4 L1169.5,995.1 L1171.5,994.7 L1173.5,994.4 L1175.4,994.1 L1177.4,993.7 L1179.4,993.4 L1181.4,993.1 L1183.3,992.7 L1185.3,992.4 L1187.3,992.1 L1189.3,991.8 L1191.2,991.5 L1193.2,991.1 L1195.2,990.8 L1197.2,990.5 L1199.1,990.1 L1201.1,989.8 L1203.1,989.4 L1205.0,989.1 L1207.0,988.8 L1209.0,988.4 L1210.9,988.1 L1212.9,987.7 L1214.9,987.4 L1216.9,987.0 L1218.8,986.6 L1220.8,986.3 L1222.8,985.9 L1224.7,985.6 L1226.7,985.2 L1228.7,984.9 L1230.6,984.5 L1232.6,984.2 L1234.6,983.8 L1236.6,983.5 L1238.5,983.1 L1240.5,982.8 L1242.5,982.4 L1244.4,982.1 L1246.4,981.7 L1248.4,981.4 L1250.3,981.0 L1252.3,980.7 L1254.3,980.3 L1256.3,980.0 L1258.2,979.6 L1260.2,979.2 L1262.2,978.9 L1264.1,978.5 L1266.1,978.1 L1268.1,977.8 L1270.0,977.4 L1272.0,977.0 L1274.0,976.6 L1275.9,976.3 L1277.9,975.9 L1279.9,975.5 L1281.9,975.1 L1283.8,974.7 L1285.8,974.4 L1287.8,974.0 L1289.8,973.5 L1291.7,973.1 L1293.7,972.7 L1295.6,972.2 L1297.5,971.7 L1299.4,971.2 L1301.3,970.6 L1303.2,970.0 L1305.1,969.4 L1307.0,968.7 L1308.8,968.0 L1310.7,967.3 L1312.6,966.7 L1314.4,966.0 L1316.3,965.4 L1318.2,964.9 L1320.1,964.3 L1322.1,963.9 L1324.0,963.4 L1326.0,963.0 L1327.9,962.6 L1329.9,962.3 L1331.9,961.9 L1333.9,961.5 L1335.8,961.2 L1337.8,960.8 L1339.8,960.3 L1341.7,959.9 L1343.6,959.4 L1345.6,958.9 L1347.5,958.4 L1349.4,957.8 L1351.3,957.2 L1353.2,956.5 L1355.1,955.9 L1356.9,955.2 L1358.8,954.5 L1360.7,953.8 L1362.6,953.0 L1364.4,952.3 L1366.3,951.6 L1368.2,950.9 L1370.1,950.2 L1371.9,949.5 L1373.8,948.8 L1375.7,948.2 L1377.6,947.5 L1379.5,946.9 L1381.4,946.2 L1383.3,945.5 L1385.2,944.9 L1387.1,944.2 L1388.9,943.5 L1390.8,942.7 L1392.7,942.0 L1394.5,941.1 L1396.3,940.3 L1398.1,939.4 L1399.8,938.4 L1401.5,937.4 L1403.1,936.4 L1404.7,935.3 L1406.3,934.1 L1407.9,932.7 L1409.4,931.1 L1410.8,930.0 L1412.4,929.6 L1414.3,929.6 L1416.1,929.5 L1418.0,929.2 L1419.8,929.1 L1421.6,929.0 L1423.4,928.4 L1425.2,927.4 L1427.0,926.2 L1428.7,925.2 L1430.5,924.2 L1432.2,923.2 L1434.0,922.3 L1435.7,921.3 L1437.5,920.4 L1439.3,919.6 L1441.2,918.9 L1443.1,918.4 L1445.0,917.9 L1446.9,917.4 L1448.8,917.0 L1450.8,916.5 L1452.7,916.2 L1454.7,915.8 L1456.7,915.5 L1458.7,915.1 L1460.6,914.7 L1462.6,914.4 L1464.5,913.9 L1466.5,913.5 L1468.4,913.0 L1470.3,912.5 L1472.2,911.9 L1474.1,911.2 L1476.0,910.5 L1477.8,909.8 L1479.7,909.0 L1481.5,908.1 L1483.3,907.3 L1485.1,906.3 L1486.8,905.4 L1488.6,904.4 L1490.3,903.4 L1492.0,902.3 L1493.6,901.2 L1495.3,900.1 L1496.9,898.9 L1498.4,897.7 L1500.0,896.4 L1501.5,895.2 L1503.0,893.8 L1504.5,892.5 L1505.9,891.1 L1507.4,889.7 L1508.8,888.3 L1510.2,886.9 L1511.6,885.5 L1513.0,884.0 L1514.5,882.6 L1515.9,881.2 L1517.3,879.8 L1518.7,878.4 L1520.1,876.9 L1521.5,875.5 L1522.9,874.1 L1524.3,872.6 L1525.7,871.2 L1527.0,869.7 L1528.3,868.2 L1529.6,866.7 L1530.9,865.2 L1532.2,863.6 L1533.4,862.1 L1534.7,860.5 L1535.9,858.9 L1537.1,857.3 L1538.4,855.8 L1539.6,854.2 L1540.9,852.7 L1542.2,851.1 L1543.5,849.6 L1544.8,848.1 L1546.1,846.6 L1547.5,845.1 L1548.8,843.7 L1550.2,842.2 L1551.5,840.7 L1552.9,839.3 L1554.3,837.8 L1555.6,836.3 L1557.0,834.9 L1558.4,833.4 L1559.8,832.0 L1561.1,830.5 L1562.5,829.1 L1563.9,827.6 L1565.3,826.2 L1566.7,824.8 L1568.1,823.4 L1569.6,822.0 L1571.0,820.6 L1572.4,819.2 L1573.9,817.8 L1575.4,816.4 L1576.8,815.1 L1578.3,813.7 L1579.8,812.4 L1581.3,811.0 L1582.8,809.7 L1584.3,808.4 L1585.8,807.1 L1587.4,805.9 L1588.9,804.6 L1590.5,803.4 L1592.2,802.3 L1593.8,801.2 L1595.5,800.1 L1597.3,799.0 L1599.1,798.2 L1600.9,797.6 L1602.8,797.2 L1604.6,796.7 L1606.5,796.3 L1608.4,795.8 L1610.3,795.4 L1612.1,794.9 L1614.0,794.2 L1615.8,793.5 L1617.5,793.3 L1619.4,793.3 L1621.3,793.3 L1622.8,793.6 L1623.9,794.6 L1624.7,796.4 L1625.6,798.5 L1626.5,800.6 L1627.4,802.4 L1628.3,804.2 L1629.2,806.0 L1630.0,807.8 L1630.8,809.7 L1631.6,811.5 L1632.5,813.4 L1633.3,815.2 L1634.1,817.0 L1635.0,818.8 L1635.9,820.6 L1636.7,822.5 L1637.6,824.3 L1638.5,826.1 L1639.4,827.8 L1640.3,829.6 L1641.2,831.4 L1642.2,833.1 L1643.2,834.9 L1644.2,836.6 L1645.2,838.3 L1646.3,840.0 L1647.4,841.7 L1648.5,843.3 L1649.7,844.9 L1650.9,846.5 L1652.1,848.1 L1653.3,849.7 L1654.6,851.2 L1655.9,852.7 L1657.2,854.2 L1658.6,855.7 L1660.0,857.2 L1661.4,858.6 L1662.8,860.1 L1664.2,861.5 L1665.7,862.8 L1667.2,864.2 L1668.7,865.5 L1670.3,866.8 L1671.9,867.8 L1673.6,868.7 L1675.3,869.5 L1677.1,870.3 L1678.9,871.1 L1680.8,871.8 L1682.7,872.5 L1684.6,873.1 L1686.5,873.7 L1688.4,874.3 L1690.3,874.8 L1692.3,875.1 L1694.2,875.2 L1696.2,875.3 L1698.2,875.4 L1700.2,875.4 L1702.1,875.4 L1704.1,875.4 L1706.1,875.3 L1708.1,875.2 L1710.1,875.2 L1712.0,875.3 L1714.0,875.4 L1716.0,875.4 L1718.0,875.5 L1720.0,875.5 L1722.0,875.6 L1724.1,875.6 L1726.1,875.6 L1728.1,875.6 L1730.1,875.6 L1732.1,875.6 L1734.0,875.5 L1736.0,875.3 L1737.9,875.2 L1739.8,875.2 L1741.7,874.9 L1743.5,874.3 L1745.3,873.5 L1747.1,872.4 L1748.9,871.4 L1750.6,870.3 L1752.2,869.2 L1753.8,868.0 L1755.4,866.8 L1756.9,865.5 L1758.4,864.1 L1759.9,862.8 L1761.3,861.4 L1762.7,859.9 L1764.0,858.4 L1765.3,856.9 L1766.6,855.4 L1767.9,853.8 L1769.1,852.2 L1770.3,850.6 L1771.4,849.0 L1772.6,847.4 L1773.7,845.7 L1774.8,844.0 L1775.8,842.3 L1776.8,840.6 L1777.8,838.9 L1778.7,837.1 L1779.6,835.3 L1780.5,833.5 L1781.3,831.7 L1782.1,829.9 L1782.8,828.0 L1783.5,826.1 L1784.2,824.2 L1784.8,822.3 L1785.4,820.4 L1786.0,818.5 L1786.6,816.6 L1787.1,814.7 L1787.7,812.8 L1788.2,810.8 L1788.7,808.9 L1789.3,807.0 L1789.8,805.0 L1790.3,803.1 L1790.8,801.2 L1791.3,799.2 L1791.7,797.3 L1792.2,795.3 L1792.7,793.4 L1793.2,791.5 L1793.7,789.5 L1794.2,787.6 L1794.7,785.6 L1795.2,783.7 L1795.6,781.8 L1796.1,779.8 L1796.6,777.9 L1797.0,775.9 L1797.5,774.0 L1797.9,772.0 L1798.4,770.1 L1798.8,768.1 L1799.3,766.2 L1799.7,764.2 L1800.1,762.3 L1800.5,760.3 L1800.9,758.3 L1801.3,756.4 L1801.7,754.4 L1802.1,752.4 L1802.5,750.5 L1802.9,748.5 L1803.2,746.6 L1803.6,744.6 L1803.9,742.6 L1804.3,740.6 L1804.6,738.7 L1804.9,736.7 L1805.3,734.7 L1805.6,732.7 L1805.9,730.8 L1806.2,728.8 L1806.4,726.8 L1806.7,724.8 L1807.0,722.8 L1807.3,720.9 L1807.5,718.9 L1807.8,716.9 L1808.1,714.9 L1808.3,712.9 L1808.6,710.9 L1808.8,709.0 L1809.1,707.0 L1809.3,705.0 L1809.6,703.0 L1809.8,701.0 L1810.1,699.0 L1810.3,697.0 L1810.6,695.1 L1810.8,693.1 L1811.0,691.1 L1811.3,689.1 L1811.6,687.1 L1811.8,685.1 L1812.1,683.2 L1812.4,681.2 L1812.6,679.2 L1812.9,677.2 L1813.2,675.2 L1813.5,673.3 L1813.8,671.3 L1814.1,669.3 L1814.4,667.3 L1814.8,665.3 L1815.1,663.4 L1815.4,661.4 L1815.7,659.4 L1816.0,657.4 L1816.4,655.5 L1816.7,653.5 L1817.0,651.5 L1817.4,649.5 L1817.7,647.6 L1818.0,645.6 L1818.3,643.6 L1818.7,641.6 L1819.0,639.7 L1819.4,637.7 L1819.8,635.7 L1820.2,633.8 L1820.6,631.8 L1821.0,629.9 L1821.5,628.0 L1822.0,626.0 L1822.6,624.1 L1823.2,622.2 L1823.8,620.3 L1824.5,618.4 L1825.2,616.6 L1825.9,614.7 L1826.7,612.9 L1827.5,611.1 L1828.3,609.4 L1829.2,607.7 L1830.1,605.8 L1831.0,604.1 L1832.0,602.3 L1833.0,600.8 L1834.1,600.4 L1835.1,601.5 L1836.2,603.2 L1837.1,605.1 L1837.8,606.9 L1838.4,608.8 L1838.9,610.6 L1839.4,612.4 L1839.8,614.3 L1840.2,616.3 L1840.5,618.2 L1840.8,620.2 L1841.1,622.2 L1841.4,624.2 L1841.6,626.2 L1841.8,628.1 L1842.1,630.1 L1842.3,632.1 L1842.5,634.1 L1842.7,636.1 L1842.9,638.1 L1843.1,640.1 L1843.3,642.1 L1843.5,644.1 L1843.7,646.1 L1843.9,648.1 L1844.1,650.0 L1844.3,652.0 L1844.5,654.0 L1844.7,656.0 L1844.9,658.0 L1845.0,660.0 L1845.2,662.0 L1845.4,664.0 L1845.6,666.0 L1845.7,668.0 L1845.9,670.0 L1846.0,672.0 L1846.2,674.0 L1846.4,676.0 L1846.5,678.0 L1846.7,680.0 L1846.8,681.9 L1847.0,683.9 L1847.1,685.9 L1847.3,687.9 L1847.4,689.9 L1847.6,691.9 L1847.7,693.9 L1847.9,695.9 L1848.0,697.9 L1848.2,699.9 L1848.3,701.9 L1848.5,703.9 L1848.6,705.9 L1848.8,707.9 L1848.9,709.9 L1849.1,711.9 L1849.3,713.9 L1849.4,715.9 L1849.6,717.9 L1849.8,719.8 L1849.9,721.8 L1850.1,723.8 L1850.3,725.8 L1850.4,727.8 L1850.6,729.8 L1850.8,731.8 L1850.9,733.8 L1851.1,735.8 L1851.3,737.8 L1851.5,739.8 L1851.7,741.8 L1851.9,743.8 L1852.1,745.8 L1852.3,747.7 L1852.5,749.7 L1852.7,751.7 L1852.9,753.7 L1853.1,755.7 L1853.3,757.7 L1853.5,759.7 L1853.7,761.7 L1853.8,763.7 L1854.0,765.7 L1854.2,767.7 L1854.4,769.6 L1854.6,771.6 L1854.8,773.6 L1855.0,775.6 L1855.1,777.6 L1855.3,779.6 L1855.5,781.6 L1855.7,783.6 L1855.9,785.6 L1856.1,787.6 L1856.2,789.6 L1856.4,791.6 L1856.6,793.6 L1856.8,795.5 L1857.0,797.5 L1857.2,799.5 L1857.4,801.5 L1857.6,803.5 L1857.8,805.5 L1858.0,807.5 L1858.2,809.5 L1858.5,811.5 L1858.7,813.5 L1858.9,815.5 L1859.1,817.4 L1859.4,819.4 L1859.6,821.4 L1859.9,823.4 L1860.1,825.4 L1860.4,827.4 L1860.7,829.4 L1861.0,831.3 L1861.3,833.3 L1861.6,835.3 L1861.9,837.3 L1862.3,839.3 L1862.7,841.2 L1863.1,843.2 L1863.6,845.1 L1864.1,847.0 L1864.6,848.9 L1865.2,850.8 L1865.9,852.7 L1866.7,854.5 L1867.5,856.3 L1868.4,858.1 L1869.4,859.8 L1870.4,861.4 L1871.5,863.0 L1872.8,864.6 L1874.2,866.1 L1875.6,867.5 L1877.2,868.6 L1878.9,869.6 L1880.7,870.5 L1882.5,871.2 L1884.4,871.4 L1886.3,871.5 L1888.2,871.6 L1890.2,871.7 L1892.1,871.7 L1894.1,871.7 L1896.1,871.7 L1898.1,871.5 L1900.1,871.4 L1902.1,871.2 L1904.1,870.9 L1906.0,870.6 L1908.0,870.3 L1910.0,869.9 L1911.9,869.5 L1913.9,869.1 L1915.9,868.7 L1917.8,868.2 L1919.8,867.8 L1921.7,867.4 L1923.7,866.9 L1925.6,866.4 L1927.6,865.9 L1929.5,865.5 L1931.4,865.0 L1933.4,864.4 L1935.3,863.9 L1937.2,863.4 L1939.2,862.8 L1941.1,862.3 L1943.0,861.7 L1944.9,861.2 L1946.9,860.6 L1948.8,860.0 L1950.7,859.4 L1952.6,858.8 L1954.5,858.2 L1956.4,857.6 L1958.3,857.1 L1960.3,856.5 L1962.2,856.0 L1964.1,855.5 L1966.0,855.0 L1967.9,854.6 L1969.8,854.2 L1971.6,853.8 L1973.4,853.5 L1975.3,853.2 L1977.3,853.0 L1979.1,852.8 L1980.8,852.3" stroke="#ff0000" stroke-width="6"/>
<path d="M210.2,904.8 L212.7,903.6 L214.5,902.9 L216.2,902.1 L217.6,901.1 L219.0,900.1 L220.5,898.9 L222.0,897.6 L223.4,896.2 L224.7,894.6 L225.7,893.0 L226.4,891.3 L227.1,889.5 L227.8,887.7 L228.6,885.9 L229.3,884.0 L230.0,882.2 L230.8,880.3 L231.6,878.5 L232.4,876.7 L233.4,875.0 L234.4,873.3 L235.5,871.7 L236.7,870.2 L238.1,868.7 L239.6,867.4 L241.3,866.1 L243.0,865.2 L244.7,864.4 L246.5,863.8 L248.4,863.3 L250.3,862.9 L252.2,862.5 L254.2,862.2 L256.1,861.9 L258.1,861.7 L260.1,861.5 L262.1,861.4 L264.1,861.4 L266.1,861.4 L268.1,861.4 L270.0,861.6 L272.0,861.7 L274.0,861.9 L276.0,862.2 L278.0,862.5 L279.9,862.9 L281.9,863.3 L283.9,863.7 L285.8,864.1 L287.8,864.6 L289.7,865.0 L291.7,865.5 L293.6,866.0 L295.6,866.5 L297.5,867.0 L299.5,867.4 L301.4,867.8 L303.4,868.2 L305.3,868.6 L307.3,868.9 L309.3,869.1 L311.2,869.3 L313.2,869.5 L315.2,869.7 L317.2,869.8 L319.2,870.0 L321.2,870.2 L323.2,870.4 L325.1,870.6 L327.1,870.9 L329.1,871.1 L331.1,871.4 L333.1,871.7 L335.0,871.9 L337.0,872.1 L339.0,872.2 L341.0,872.3 L343.0,872.4 L345.0,872.4 L347.0,872.3 L349.0,872.3 L351.0,872.2 L353.0,872.1 L355.0,872.0 L357.0,871.9 L359.0,871.8 L360.9,871.6 L362.9,871.5 L364.9,871.4 L366.9,871.2 L368.9,871.1 L370.9,870.9 L372.9,870.8 L374.9,870.7 L376.9,870.6 L378.9,870.4 L380.9,870.3 L382.9,870.2 L384.9,870.1 L386.9,870.1 L388.9,870.0 L390.9,869.9 L392.9,869.8 L394.9,869.8 L396.9,869.7 L398.9,869.6 L400.9,869.6 L402.9,869.5 L404.9,869.4 L406.9,869.3 L408.9,869.2 L410.9,869.1 L412.9,869.0 L414.9,868.9 L416.9,868.7 L418.9,868.6 L420.9,868.4 L422.9,868.3 L424.9,868.1 L426.9,867.9 L428.8,867.7 L430.8,867.5 L432.8,867.3 L434.8,867.1 L436.8,866.9 L438.8,866.6 L440.8,866.3 L442.7,866.1 L444.7,865.7 L446.7,865.4 L448.6,865.1 L450.6,864.7 L452.6,864.4 L454.5,864.1 L456.5,863.7 L458.5,863.4 L460.5,863.2 L462.4,862.9 L464.4,862.6 L466.4,862.4 L468.4,862.2 L470.4,862.0 L472.4,861.8 L474.4,861.6 L476.4,861.4 L478.4,861.2 L480.3,861.1 L482.3,860.9 L484.3,860.7 L486.3,860.5 L488.3,860.4 L490.3,860.2 L492.3,860.0 L494.3,859.8 L496.3,859.6 L498.3,859.4 L500.3,859.2 L502.3,858.9 L504.2,858.7 L506.2,858.4 L508.2,858.2 L510.2,857.9 L512.2,857.6 L514.2,857.4 L516.1,857.1 L518.1,856.8 L520.1,856.5 L522.1,856.2 L524.0,855.8 L526.0,855.5 L528.0,855.2 L530.0,854.9 L531.9,854.5 L533.9,854.2 L535.9,853.9 L537.8,853.5 L539.8,853.2 L541.8,852.8 L543.7,852.5 L545.7,852.1 L547.7,851.7 L549.6,851.3 L551.6,851.0 L553.6,850.6 L555.5,850.2 L557.5,849.8 L559.5,849.4 L561.4,849.0 L563.4,848.6 L565.3,848.2 L567.3,847.8 L569.2,847.4 L571.2,847.0 L573.2,846.5 L575.1,846.1 L577.1,845.7 L579.0,845.3 L581.0,844.8 L582.9,844.4 L584.9,844.0 L586.8,843.5 L588.8,843.1 L590.7,842.6 L592.7,842.2 L594.6,841.7 L596.6,841.3 L598.5,840.8 L600.5,840.3 L602.4,839.9 L604.4,839.4 L606.3,838.9 L608.2,838.5 L610.2,838.0 L612.1,837.6 L614.1,837.1 L616.0,836.6 L618.0,836.2 L619.9,835.7 L621.9,835.2 L623.8,834.8 L625.8,834.3 L627.7,833.8 L629.7,833.4 L631.6,833.0 L633.6,832.5 L635.5,832.1 L637.5,831.7 L639.4,831.3 L641.4,830.9 L643.4,830.5 L645.3,830.1 L647.3,829.7 L649.2,829.3 L651.2,828.9 L653.1,828.4 L655.1,828.0 L657.0,827.5 L658.9,827.0 L660.9,826.5 L662.8,825.9 L664.7,825.4 L666.6,824.8 L668.6,824.3 L670.5,823.7 L672.4,823.2 L674.3,822.6 L676.3,822.1 L678.2,821.5 L680.1,821.0 L682.0,820.4 L684.0,819.9 L685.9,819.4 L687.8,818.8 L689.8,818.3 L691.7,817.8 L693.6,817.3 L695.6,816.8 L697.5,816.3 L699.4,815.8 L701.4,815.3 L703.3,814.8 L705.3,814.3 L707.2,813.9 L709.1,813.4 L711.1,813.0 L713.0,812.5 L715.0,812.1 L716.9,811.7 L718.9,811.2 L720.9,810.8 L722.8,810.4 L724.8,810.0 L726.7,809.6 L728.7,809.2 L730.7,808.9 L732.6,808.5 L734.6,808.1 L736.6,807.8 L738.5,807.4 L740.5,807.1 L742.5,806.7 L744.4,806.4 L746.4,806.1 L748.4,805.8 L750.4,805.4 L752.3,805.1 L754.3,804.8 L756.3,804.5 L758.3,804.2 L760.3,804.0 L762.2,803.7 L764.2,803.4 L766.2,803.1 L768.2,802.8 L770.2,802.6 L772.1,802.3 L774.1,802.1 L776.1,801.8 L778.1,801.5 L780.1,801.3 L782.1,801.0 L784.1,800.8 L786.0,800.5 L788.0,800.3 L790.0,800.1 L792.0,799.8 L794.0,799.6 L796.0,799.4 L798.0,799.1 L800.0,798.9 L801.9,798.7 L803.9,798.5 L805.9,798.3 L807.9,798.1 L809.9,797.9 L811.9,797.7 L813.9,797.5 L815.9,797.3 L817.9,797.1 L819.9,796.8 L821.8,796.6 L823.8,796.4 L825.8,796.1 L827.8,795.9 L829.8,795.6 L831.7,795.3 L833.7,795.0 L835.7,794.7 L837.6,794.3 L839.6,794.0 L841.6,793.6 L843.5,793.1 L845.5,792.7 L847.4,792.3 L849.4,791.9 L851.3,791.4 L853.3,791.0 L855.2,790.5 L857.2,790.1 L859.2,789.7 L861.1,789.3 L863.1,788.9 L865.1,788.5 L867.0,788.2 L869.0,787.9 L871.0,787.6 L873.0,787.4 L875.0,787.2 L876.9,787.1 L878.9,787.0 L880.9,786.9 L882.9,786.9 L884.9,786.9 L886.9,786.9 L888.9,786.9 L890.9,787.0 L892.9,787.1 L894.9,787.3 L896.9,787.4 L898.8,787.7 L900.8,787.9 L902.8,788.2 L904.8,788.5 L906.8,788.8 L908.7,789.1 L910.7,789.5 L912.7,789.8 L914.7,790.2 L916.6,790.5 L918.6,790.9 L920.6,791.3 L922.5,791.6 L924.5,792.0 L926.4,792.5 L928.4,792.9 L930.3,793.4 L932.2,793.9 L934.2,794.5 L936.1,795.1 L938.0,795.7 L939.9,796.3 L941.8,796.9 L943.7,797.6 L945.6,798.2 L947.5,798.9 L949.3,799.5 L951.2,800.2 L953.1,800.8 L955.1,801.4 L957.0,802.0 L958.9,802.6 L960.8,803.1 L962.7,803.7 L964.7,804.2 L966.6,804.6 L968.5,805.1 L970.5,805.5 L972.4,805.9 L974.4,806.3 L976.4,806.7 L978.3,807.0 L980.3,807.3 L982.3,807.7 L984.3,808.0 L986.2,808.3 L988.2,808.6 L990.2,808.9 L992.2,809.2 L994.2,809.5 L996.1,809.8 L998.1,810.0 L1000.1,810.3 L1002.1,810.5 L1004.1,810.8 L1006.1,811.0 L1008.1,811.2 L1010.0,811.4 L1012.0,811.6 L1014.0,811.8 L1016.0,811.9 L1018.0,812.1 L1020.0,812.2 L1022.0,812.3 L1024.0,812.4 L1026.0,812.5 L1028.0,812.7 L1030.0,812.8 L1032.0,812.9 L1034.0,813.0 L1036.0,813.0 L1038.0,813.1 L1040.0,813.2 L1042.0,813.3 L1044.0,813.4 L1046.0,813.5 L1048.0,813.6 L1050.0,813.7 L1052.0,813.8 L1054.0,813.9 L1056.0,814.0 L1058.0,814.1 L1060.0,814.1 L1062.0,814.2 L1064.0,814.2 L1066.0,814.3 L1068.0,814.3 L1070.0,814.3 L1072.0,814.3 L1074.0,814.2 L1076.0,814.2 L1078.0,814.1 L1080.0,814.0 L1081.9,813.9 L1083.9,813.8 L1085.9,813.6 L1087.9,813.5 L1089.9,813.3 L1091.9,813.1 L1093.9,812.9 L1095.9,812.7 L1097.9,812.5 L1099.9,812.3 L1101.8,812.2 L1103.8,812.0 L1105.8,811.9 L1107.8,811.9 L1109.8,811.8 L1111.8,811.7 L1113.8,811.7 L1115.8,811.7 L1117.8,811.6 L1119.8,811.6 L1121.8,811.6 L1123.8,811.6 L1125.8,811.6 L1127.8,811.6 L1129.8,811.5 L1131.8,811.5 L1133.8,811.5 L1135.8,811.5 L1137.8,811.5 L1139.8,811.4 L1141.8,811.4 L1143.8,811.4 L1145.8,811.3 L1147.8,811.3 L1149.8,811.2 L1151.8,811.1 L1153.8,811.0 L1155.8,810.9 L1157.8,810.8 L1159.8,810.7 L1161.8,810.6 L1163.8,810.4 L1165.8,810.2 L1167.8,810.0 L1169.8,809.9 L1171.8,809.7 L1173.8,809.4 L1175.7,809.2 L1177.7,809.0 L1179.7,808.8 L1181.7,808.5 L1183.7,808.3 L1185.7,808.1 L1187.7,807.8 L1189.6,807.5 L1191.6,807.2 L1193.6,806.9 L1195.6,806.6 L1197.5,806.3 L1199.5,806.0 L1201.5,805.6 L1203.4,805.3 L1205.4,804.9 L1207.4,804.5 L1209.3,804.2 L1211.3,803.8 L1213.3,803.4 L1215.2,803.0 L1217.2,802.6 L1219.2,802.2 L1221.1,801.8 L1223.1,801.4 L1225.0,801.0 L1227.0,800.6 L1229.0,800.2 L1230.9,799.8 L1232.9,799.4 L1234.8,799.0 L1236.8,798.6 L1238.8,798.2 L1240.7,797.8 L1242.7,797.4 L1244.6,797.0 L1246.6,796.5 L1248.5,796.1 L1250.5,795.7 L1252.5,795.3 L1254.4,794.8 L1256.4,794.4 L1258.3,794.0 L1260.3,793.5 L1262.2,793.1 L1264.2,792.7 L1266.1,792.3 L1268.1,791.8 L1270.0,791.4 L1272.0,791.0 L1273.9,790.5 L1275.9,790.1 L1277.8,789.7 L1279.8,789.2 L1281.7,788.8 L1283.7,788.3 L1285.7,787.9 L1287.6,787.5 L1289.6,787.0 L1291.5,786.6 L1293.5,786.1 L1295.4,785.7 L1297.4,785.3 L1299.3,784.8 L1301.3,784.4 L1303.2,783.9 L1305.2,783.5 L1307.1,783.1 L1309.1,782.6 L1311.0,782.2 L1313.0,781.8 L1314.9,781.4 L1316.9,780.9 L1318.8,780.5 L1320.8,780.1 L1322.8,779.7 L1324.7,779.3 L1326.7,778.9 L1328.7,778.6 L1330.6,778.2 L1332.6,777.8 L1334.6,777.4 L1336.5,777.1 L1338.5,776.7 L1340.5,776.3 L1342.4,775.9 L1344.4,775.5 L1346.3,775.2 L1348.3,774.8 L1350.3,774.4 L1352.2,774.0 L1354.2,773.5 L1356.1,773.1 L1358.1,772.7 L1360.0,772.2 L1361.9,771.7 L1363.9,771.2 L1365.8,770.7 L1367.7,770.1 L1369.7,769.6 L1371.6,769.0 L1373.5,768.5 L1375.4,767.9 L1377.3,767.3 L1379.3,766.7 L1381.2,766.2 L1383.1,765.7 L1385.0,765.2 L1387.0,764.7 L1388.9,764.3 L1390.9,763.8 L1392.8,763.4 L1394.8,763.0 L1396.7,762.7 L1398.7,762.3 L1400.7,762.0 L1402.7,761.7 L1404.6,761.4 L1406.6,761.0 L1408.6,760.7 L1410.6,760.4 L1412.5,760.0 L1414.5,759.7 L1416.5,759.3 L1418.4,759.0 L1420.4,758.6 L1422.4,758.2 L1424.3,757.8 L1426.3,757.4 L1428.3,757.0 L1430.2,756.6 L1432.2,756.2 L1434.1,755.8 L1436.1,755.4 L1438.0,754.9 L1440.0,754.5 L1441.9,754.0 L1443.9,753.5 L1445.8,753.0 L1447.7,752.5 L1449.6,751.9 L1451.6,751.4 L1453.5,750.8 L1455.4,750.2 L1457.3,749.5 L1459.2,748.9 L1461.0,748.2 L1462.9,747.6 L1464.8,746.9 L1466.7,746.2 L1468.6,745.5 L1470.5,744.8 L1472.4,744.2 L1474.3,743.5 L1476.1,742.8 L1478.0,742.1 L1479.9,741.3 L1481.7,740.6 L1483.5,739.8 L1485.3,738.9 L1487.1,738.0 L1488.8,737.1 L1490.5,736.1 L1492.1,735.0 L1493.8,733.9 L1495.4,732.7 L1497.0,731.5 L1498.5,730.2 L1500.1,728.9 L1501.6,727.6 L1503.1,726.3 L1504.6,725.0 L1506.1,723.7 L1507.6,722.3 L1509.1,721.0 L1510.6,719.6 L1512.0,718.2 L1513.5,716.9 L1514.9,715.5 L1516.4,714.1 L1517.8,712.7 L1519.2,711.3 L1520.6,709.9 L1522.0,708.4 L1523.4,707.0 L1524.8,705.6 L1526.2,704.1 L1527.6,702.7 L1528.9,701.2 L1530.3,699.7 L1531.6,698.3 L1533.0,696.8 L1534.3,695.3 L1535.7,693.8 L1537.0,692.3 L1538.3,690.8 L1539.6,689.3 L1540.9,687.8 L1542.2,686.3 L1543.5,684.7 L1544.8,683.2 L1546.1,681.7 L1547.4,680.1 L1548.6,678.6 L1549.9,677.1 L1551.2,675.5 L1552.5,674.0 L1553.8,672.5 L1555.1,671.0 L1556.4,669.4 L1557.8,667.9 L1559.1,666.4 L1560.4,665.0 L1561.8,663.5 L1563.2,662.1 L1564.6,660.7 L1566.0,659.3 L1567.5,657.9 L1568.9,656.6 L1570.4,655.3 L1572.0,654.0 L1573.5,652.7 L1575.0,651.4 L1576.6,650.2 L1578.2,648.9 L1579.7,647.7 L1581.3,646.4 L1582.9,645.2 L1584.5,643.9 L1586.1,642.7 L1587.7,641.5 L1589.4,640.4 L1591.1,639.3 L1592.8,638.5 L1594.6,637.8 L1596.4,637.2 L1598.3,636.6 L1600.2,636.2 L1602.1,635.9 L1604.1,635.6 L1606.1,635.4 L1608.0,635.3 L1610.0,635.3 L1611.9,635.5 L1613.8,635.9 L1615.7,636.3 L1617.5,636.9 L1619.3,637.6 L1621.0,638.5 L1622.7,639.7 L1624.1,641.0 L1625.4,642.5 L1626.6,644.1 L1627.8,645.6 L1629.1,647.2 L1630.3,648.8 L1631.5,650.4 L1632.7,652.0 L1633.9,653.6 L1635.0,655.2 L1636.2,656.8 L1637.4,658.4 L1638.6,660.1 L1639.7,661.7 L1640.9,663.3 L1642.0,665.0 L1643.2,666.6 L1644.3,668.2 L1645.5,669.8 L1646.7,671.4 L1647.9,673.0 L1649.1,674.6 L1650.3,676.2 L1651.6,677.8 L1652.8,679.3 L1654.1,680.9 L1655.4,682.4 L1656.7,684.0 L1658.0,685.5 L1659.4,686.9 L1660.7,688.4 L1662.1,689.8 L1663.5,691.2 L1665.0,692.6 L1666.5,693.9 L1668.0,695.2 L1669.6,696.4 L1671.1,697.6 L1672.8,698.8 L1674.4,699.9 L1676.1,701.0 L1677.8,702.0 L1679.5,703.0 L1681.3,703.9 L1683.1,704.9 L1684.9,705.7 L1686.7,706.5 L1688.5,707.3 L1690.4,708.1 L1692.2,708.7 L1694.1,709.4 L1696.0,710.0 L1698.0,710.5 L1699.9,711.0 L1701.8,711.4 L1703.8,711.7 L1705.8,712.1 L1707.7,712.3 L1709.7,712.5 L1711.7,712.7 L1713.7,712.8 L1715.7,712.9 L1717.7,713.0 L1719.7,713.0 L1721.7,713.0 L1723.7,712.9 L1725.7,712.8 L1727.7,712.7 L1729.7,712.5 L1731.7,712.4 L1733.7,712.1 L1735.6,711.8 L1737.6,711.5 L1739.6,711.1 L1741.5,710.6 L1743.4,710.0 L1745.3,709.4 L1747.1,708.7 L1748.9,708.0 L1750.7,707.2 L1752.4,706.2 L1754.1,705.2 L1755.7,704.0 L1757.2,702.7 L1758.8,701.4 L1760.3,700.1 L1761.7,698.7 L1763.1,697.2 L1764.4,695.8 L1765.7,694.2 L1767.0,692.7 L1768.2,691.1 L1769.4,689.5 L1770.5,687.8 L1771.6,686.2 L1772.7,684.5 L1773.7,682.7 L1774.7,681.0 L1775.6,679.3 L1776.6,677.5 L1777.4,675.7 L1778.3,673.9 L1779.1,672.0 L1779.9,670.2 L1780.6,668.3 L1781.3,666.5 L1782.0,664.6 L1782.7,662.7 L1783.3,660.8 L1783.8,658.9 L1784.4,657.0 L1784.9,655.0 L1785.4,653.1 L1785.9,651.2 L1786.3,649.2 L1786.8,647.3 L1787.2,645.3 L1787.6,643.4 L1788.0,641.4 L1788.5,639.4 L1788.9,637.5 L1789.3,635.5 L1789.7,633.6 L1790.1,631.6 L1790.5,629.6 L1790.9,627.7 L1791.3,625.7 L1791.7,623.8 L1792.0,621.8 L1792.4,619.8 L1792.8,617.9 L1793.2,615.9 L1793.5,613.9 L1793.9,612.0 L1794.3,610.0 L1794.6,608.0 L1795.0,606.1 L1795.3,604.1 L1795.6,602.1 L1796.0,600.1 L1796.3,598.2 L1796.7,596.2 L1797.0,594.2 L1797.3,592.3 L1797.7,590.3 L1798.0,588.3 L1798.3,586.3 L1798.7,584.4 L1799.0,582.4 L1799.3,580.4 L1799.6,578.4 L1799.9,576.5 L1800.3,574.5 L1800.6,572.5 L1800.9,570.5 L1801.2,568.6 L1801.5,566.6 L1801.9,564.6 L1802.2,562.7 L1802.5,560.7 L1802.8,558.7 L1803.2,556.7 L1803.5,554.8 L1803.9,552.8 L1804.3,550.8 L1804.6,548.9 L1805.0,546.9 L1805.4,544.9 L1805.7,543.0 L1806.1,541.0 L1806.4,539.0 L1806.8,537.1 L1807.1,535.1 L1807.4,533.1 L1807.8,531.1 L1808.1,529.2 L1808.4,527.2 L1808.7,525.2 L1809.0,523.2 L1809.3,521.3 L1809.6,519.3 L1809.9,517.3 L1810.2,515.3 L1810.5,513.4 L1810.8,511.4 L1811.1,509.4 L1811.5,507.4 L1811.8,505.5 L1812.1,503.5 L1812.4,501.5 L1812.7,499.5 L1813.0,497.6 L1813.4,495.6 L1813.7,493.6 L1814.0,491.6 L1814.3,489.7 L1814.7,487.7 L1815.0,485.7 L1815.3,483.8 L1815.7,481.8 L1816.0,479.8 L1816.3,477.8 L1816.6,475.9 L1816.9,473.9 L1817.2,471.9 L1817.6,469.9 L1817.9,468.0 L1818.3,466.0 L1818.6,464.0 L1819.0,462.1 L1819.4,460.1 L1819.8,458.1 L1820.1,456.2 L1820.5,454.2 L1820.9,452.2 L1821.2,450.3 L1821.6,448.3 L1821.9,446.3 L1822.3,444.4 L1822.7,442.4 L1823.0,440.4 L1823.4,438.5 L1823.8,436.5 L1824.1,434.5 L1824.5,432.6 L1824.9,430.6 L1825.3,428.6 L1825.6,426.7 L1826.0,424.7 L1826.4,422.8 L1826.8,420.8 L1827.3,418.9 L1827.7,416.9 L1828.1,415.0 L1828.6,413.0 L1829.1,411.1 L1829.6,409.1 L1830.1,407.2 L1830.6,405.4 L1831.2,403.6 L1831.8,401.8 L1832.4,399.8 L1833.1,397.9 L1833.8,396.1 L1834.9,394.5 L1836.0,393.8 L1837.1,394.5 L1838.1,396.0 L1839.0,397.8 L1839.6,399.7 L1840.2,401.7 L1840.6,403.5 L1841.1,405.3 L1841.5,407.2 L1841.8,409.1 L1842.2,411.1 L1842.4,413.1 L1842.7,415.0 L1843.0,417.0 L1843.2,419.0 L1843.5,421.0 L1843.7,423.0 L1844.0,425.0 L1844.2,427.0 L1844.4,429.0 L1844.7,430.9 L1844.9,432.9 L1845.2,434.9 L1845.4,436.9 L1845.6,438.9 L1845.9,440.9 L1846.1,442.9 L1846.3,444.9 L1846.5,446.8 L1846.8,448.8 L1847.0,450.8 L1847.2,452.8 L1847.4,454.8 L1847.6,456.8 L1847.8,458.8 L1848.0,460.8 L1848.2,462.8 L1848.4,464.7 L1848.6,466.7 L1848.7,468.7 L1848.9,470.7 L1849.1,472.7 L1849.3,474.7 L1849.5,476.7 L1849.6,478.7 L1849.8,480.7 L1850.0,482.7 L1850.1,484.7 L1850.3,486.7 L1850.5,488.7 L1850.6,490.7 L1850.8,492.6 L1850.9,494.6 L1851.1,496.6 L1851.2,498.6 L1851.4,500.6 L1851.5,502.6 L1851.7,504.6 L1851.8,506.6 L1852.0,508.6 L1852.1,510.6 L1852.2,512.6 L1852.4,514.6 L1852.5,516.6 L1852.6,518.6 L1852.8,520.6 L1852.9,522.6 L1853.0,524.6 L1853.1,526.6 L1853.3,528.6 L1853.4,530.6 L1853.5,532.6 L1853.6,534.5 L1853.7,536.5 L1853.8,538.5 L1854.0,540.5 L1854.1,542.5 L1854.2,544.5 L1854.3,546.5 L1854.4,548.5 L1854.5,550.5 L1854.7,552.5 L1854.8,554.5 L1854.9,556.5 L1855.0,558.5 L1855.1,560.5 L1855.2,562.5 L1855.4,564.5 L1855.5,566.5 L1855.6,568.5 L1855.7,570.5 L1855.8,572.5 L1856.0,574.5 L1856.1,576.5 L1856.2,578.5 L1856.3,580.5 L1856.4,582.5 L1856.6,584.5 L1856.7,586.5 L1856.8,588.5 L1856.9,590.5 L1857.1,592.4 L1857.2,594.4 L1857.3,596.4 L1857.4,598.4 L1857.6,600.4 L1857.7,602.4 L1857.8,604.4 L1858.0,606.4 L1858.1,608.4 L1858.2,610.4 L1858.4,612.4 L1858.5,614.4 L1858.7,616.4 L1858.8,618.4 L1859.0,620.4 L1859.1,622.4 L1859.3,624.4 L1859.4,626.4 L1859.6,628.4 L1859.8,630.3 L1860.0,632.3 L1860.2,634.3 L1860.4,636.3 L1860.6,638.3 L1860.8,640.3 L1861.0,642.3 L1861.2,644.3 L1861.4,646.3 L1861.7,648.2 L1861.9,650.2 L1862.1,652.2 L1862.4,654.2 L1862.6,656.2 L1862.9,658.2 L1863.2,660.2 L1863.5,662.1 L1863.7,664.1 L1864.0,666.1 L1864.3,668.1 L1864.6,670.1 L1864.9,672.0 L1865.2,674.0 L1865.6,676.0 L1865.9,677.9 L1866.3,679.9 L1866.6,681.9 L1867.0,683.9 L1867.4,685.8 L1867.8,687.8 L1868.2,689.7 L1868.7,691.7 L1869.3,693.6 L1869.8,695.5 L1870.4,697.3 L1871.1,699.1 L1871.9,700.9 L1872.8,702.6 L1873.8,704.3 L1875.0,705.9 L1876.3,707.4 L1877.8,708.8 L1879.4,710.0 L1881.1,711.0 L1882.8,711.8 L1884.6,712.6 L1886.5,713.2 L1888.3,713.7 L1890.3,714.1 L1892.2,714.3 L1894.2,714.3 L1896.1,714.3 L1898.1,714.3 L1900.1,714.3 L1902.1,714.2 L1904.1,714.0 L1906.1,713.8 L1908.1,713.7 L1910.1,713.4 L1912.1,713.2 L1914.0,713.0 L1916.0,712.7 L1918.0,712.4 L1920.0,712.1 L1922.0,711.8 L1923.9,711.5 L1925.9,711.1 L1927.9,710.8 L1929.9,710.5 L1931.8,710.2 L1933.8,709.9 L1935.8,709.6 L1937.8,709.3 L1939.8,709.0 L1941.7,708.7 L1943.7,708.5 L1945.7,708.2 L1947.7,707.9 L1949.7,707.7 L1951.7,707.4 L1953.6,707.2 L1955.6,706.9 L1957.6,706.7 L1959.6,706.5 L1961.6,706.3 L1963.6,706.1 L1965.5,705.9 L1967.5,705.7 L1969.4,705.5 L1971.2,705.3 L1973.1,705.2 L1975.0,705.0 L1977.0,704.9 L1978.8,704.8 L1980.5,704.5" stroke="#000" stroke-width="6"/>
</g>
<g stroke-linecap="round">
<line x1="269.5" y1="164.3" x2="420.2" y2="164.3" stroke="#0000ff" stroke-width="7"/>
<line x1="269.5" y1="263.4" x2="420.2" y2="263.4" stroke="#ff0000" stroke-width="7"/>
<line x1="269" y1="361.9" x2="420.7" y2="361.9" stroke="#000" stroke-width="6"/>
</g>
<text class="s" y="188.5" font-size="70"><tspan x="438.6" textLength="134.2" lengthAdjust="spacingAndGlyphs">PLA</tspan></text>
<text class="s" y="287.3" font-size="70"><tspan x="439.8" textLength="268.4" lengthAdjust="spacingAndGlyphs">activated</tspan><tspan x="709.9"> </tspan><tspan x="727.0" textLength="134.7" lengthAdjust="spacingAndGlyphs">PLA</tspan></text>
<text class="s" y="386.4" font-size="70"><tspan x="439.8" textLength="268.4" lengthAdjust="spacingAndGlyphs">activated</tspan><tspan x="709.9"> </tspan><tspan x="727.0" textLength="134.7" lengthAdjust="spacingAndGlyphs">PLA</tspan><tspan x="862.2"> </tspan><tspan x="878.3" textLength="134.0" lengthAdjust="spacingAndGlyphs">with</tspan><tspan x="1013.6"> </tspan><tspan x="1030.5" textLength="375.3" lengthAdjust="spacingAndGlyphs">immobilized</tspan><tspan x="1409.2"> </tspan><tspan x="1428.0" textLength="248.0" lengthAdjust="spacingAndGlyphs">protease</tspan></text>
<text class="s" y="89.3" font-size="71" font-style="italic"><tspan x="1578.6" textLength="129.6" lengthAdjust="spacingAndGlyphs">First</tspan><tspan x="1710.1"> </tspan><tspan x="1727.5" textLength="210.1" lengthAdjust="spacingAndGlyphs">heating</tspan></text>
<text class="s" y="1613.5" font-size="70" font-weight="bold"><tspan x="818.8" textLength="409.6" lengthAdjust="spacingAndGlyphs">Temperature</tspan><tspan x="1231.7"> </tspan><tspan x="1250.4" textLength="119.0" lengthAdjust="spacingAndGlyphs">(°C)</tspan></text>
<text class="s" transform="translate(81,0) rotate(-90)" y="0" font-size="70" font-weight="bold"><tspan x="-1060.9" textLength="149.7" lengthAdjust="spacingAndGlyphs">Heat</tspan><tspan x="-905.1"> </tspan><tspan x="-882.5" textLength="148.6" lengthAdjust="spacingAndGlyphs">Flow</tspan><tspan x="-727.8"> </tspan><tspan x="-705.2" textLength="142.1" lengthAdjust="spacingAndGlyphs">(a.u.)</tspan></text>
</svg></body></html>
